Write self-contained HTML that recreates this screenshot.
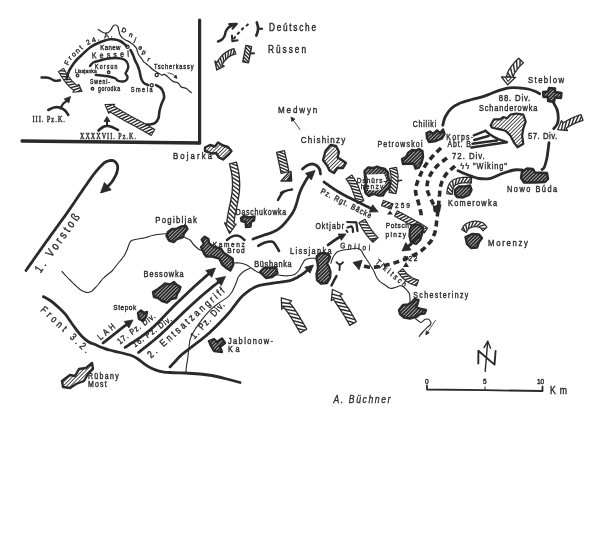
<!DOCTYPE html>
<html><head><meta charset="utf-8"><title>Map</title>
<style>html,body{margin:0;padding:0;background:#fff;}svg{display:block;filter:grayscale(1);}</style></head>
<body><svg width="600" height="545" viewBox="0 0 600 545">
<rect width="600" height="545" fill="#fff"/>
<defs>
<pattern id="hatch" patternUnits="userSpaceOnUse" width="2.6" height="2.6" patternTransform="rotate(45)">
<rect width="2.6" height="2.6" fill="#fff"/><line x1="0" y1="0" x2="0" y2="2.6" stroke="#2a2a2a" stroke-width="1.6"/></pattern>
<pattern id="hatchd" patternUnits="userSpaceOnUse" width="2.5" height="2.5" patternTransform="rotate(45)">
<rect width="2.5" height="2.5" fill="#2a2a2a"/><line x1="0" y1="0" x2="0" y2="2.5" stroke="#fff" stroke-width="1.1"/></pattern>
</defs>
<path d="M22,141 L199.6,143" fill="none" stroke="#2a2a2a" stroke-width="3.3" stroke-linecap="round" stroke-linejoin="round"/>
<path d="M199.6,20 L199.6,143" fill="none" stroke="#2a2a2a" stroke-width="3.2" stroke-linecap="round" stroke-linejoin="round"/>
<path d="M98.3,29.6 C98.9,30 100.6,31.1 101.7,31.7 C102.8,32.3 103.9,32.9 105,33 C106.1,33.1 107.3,33 108.3,32.5 C109.3,32 110,31.1 110.8,30 C111.6,28.9 112.5,26.6 113.3,25.8 C114.1,25 114.7,24.9 115.4,25 C116.2,25.1 117.2,25.6 117.8,26.4 C118.3,27.2 118.3,28.6 118.7,30 C119.1,31.4 119.4,33.4 120,34.7 C120.6,36 121.5,37.1 122.3,37.9 C123.1,38.7 123.9,39.1 125,39.7 C126.1,40.3 127.7,41 128.8,41.6 C129.9,42.2 130.6,42.7 131.5,43.4 C132.4,44.1 133.5,44.9 134.3,45.7 C135.2,46.5 136.1,47.3 136.6,48.4 C137.1,49.5 137.1,50.9 137.5,52.1 C137.9,53.3 138.6,54.7 139.3,55.8 C140,56.9 140.9,57.6 141.6,58.5 C142.3,59.4 142.6,60.4 143.4,61.3 C144.2,62.2 145.2,62.9 146.2,63.8 C147.2,64.7 148.4,65.6 149.5,66.5 C150.6,67.4 151.6,68.5 152.5,69.3 C153.4,70.1 154,70.4 155.1,71.1 C156.2,71.8 157.7,72.6 158.8,73.3 C160,74 161.2,75 162,75.2 C162.8,75.4 163.1,74.3 163.8,74.3 C164.5,74.3 165.1,74.4 166.1,75.2 C167.1,76 168.6,77.8 169.8,78.9 C171,80 172.2,81 173.4,81.6 C174.6,82.2 176.1,82 177.1,82.5 C178.1,83 178.8,83.7 179.4,84.4 C180,85.1 180.1,86.2 180.8,86.7 C181.5,87.2 182.6,87.3 183.5,87.6 C184.4,87.9 185.4,88 186.3,88.5 C187.2,89 188.2,90.1 189,90.8 C189.8,91.5 190.9,92.3 191.3,92.6" fill="none" stroke="#2a2a2a" stroke-width="1.2" stroke-linecap="round" stroke-linejoin="round"/>
<text font-size="6.5" letter-spacing="0" font-weight="normal" font-style="normal" font-family="Liberation Sans" text-anchor="start" fill="#2a2a2a" stroke="#2a2a2a" stroke-width="0.4" transform="translate(121 31.5) rotate(20)">D</text>
<text font-size="6.5" letter-spacing="0" font-weight="normal" font-style="normal" font-family="Liberation Sans" text-anchor="start" fill="#2a2a2a" stroke="#2a2a2a" stroke-width="0.4" transform="translate(128.5 36.2) rotate(20)">n</text>
<text font-size="6.5" letter-spacing="0" font-weight="normal" font-style="normal" font-family="Liberation Sans" text-anchor="start" fill="#2a2a2a" stroke="#2a2a2a" stroke-width="0.4" transform="translate(133.8 41.5) rotate(20)">j</text>
<text font-size="6.5" letter-spacing="0" font-weight="normal" font-style="normal" font-family="Liberation Sans" text-anchor="start" fill="#2a2a2a" stroke="#2a2a2a" stroke-width="0.4" transform="translate(138 49) rotate(20)">e</text>
<text font-size="6.5" letter-spacing="0" font-weight="normal" font-style="normal" font-family="Liberation Sans" text-anchor="start" fill="#2a2a2a" stroke="#2a2a2a" stroke-width="0.4" transform="translate(141.5 53.5) rotate(20)">p</text>
<text font-size="6.5" letter-spacing="0" font-weight="normal" font-style="normal" font-family="Liberation Sans" text-anchor="start" fill="#2a2a2a" stroke="#2a2a2a" stroke-width="0.4" transform="translate(147 61) rotate(20)">r</text>
<path d="M66.5,79 C66.9,77.7 67.9,73.4 69,71 C70.1,68.6 71.7,66.4 73,64.5 C74.3,62.6 75.5,61.1 77,59.5 C78.5,57.9 80.2,56.4 81.7,55 C83.2,53.6 84.6,52.2 86,51 C87.4,49.8 88.5,48.6 90,47.5 C91.5,46.4 93.3,45.4 95,44.5 C96.7,43.6 98.3,43 100,42.3 C101.7,41.6 103.3,41 105,40.5 C106.7,40 108.3,39.5 110,39.3 C111.7,39.1 113.3,39.2 115,39.5 C116.7,39.8 118.5,40.3 120,41 C121.5,41.7 122.9,42.9 124,43.7 C125.1,44.5 126.1,45.6 126.5,46" fill="none" stroke="#2a2a2a" stroke-width="2.6" stroke-linecap="round" stroke-linejoin="round"/>
<path id="frontarc" d="M68,65.5 C68.7,64.4 70.7,60.5 72.2,58.7 C73.7,56.9 75.3,56.1 76.9,54.6 C78.5,53.1 79.9,51.5 81.6,50 C83.3,48.5 84.9,47 87,45.7 C89.1,44.4 91.9,43.1 94.2,42.1 C96.5,41.1 98.6,40.5 101,39.8 C103.4,39 106.1,38.1 108.6,37.6 C111.1,37.1 114.8,37.1 116,37" fill="none"/>
<text font-size="7" letter-spacing="1.7" font-family="Liberation Sans" fill="#2a2a2a" stroke="#2a2a2a" stroke-width="0.35"><textPath href="#frontarc">Front 24. A.</textPath></text>
<circle cx="127.5" cy="46.8" r="1.6" fill="none" stroke="#2a2a2a" stroke-width="1.3"/>
<text font-size="7.4" letter-spacing="0" font-weight="normal" font-style="normal" font-family="Liberation Sans" text-anchor="start" fill="#2a2a2a" stroke="#2a2a2a" stroke-width="0.4" transform="translate(100.3 50.2) scale(0.820 1)" textLength="24.39" lengthAdjust="spacing">Kanew</text>
<text font-size="8.5" letter-spacing="0" font-weight="normal" font-style="normal" font-family="Liberation Sans" text-anchor="start" fill="#2a2a2a" stroke="#2a2a2a" stroke-width="0.4" transform="translate(92 58.6) rotate(-3) scale(0.820 1)" textLength="45.12" lengthAdjust="spacing">Kessel</text>
<path d="M130.5,50 C130.9,50.8 132.2,53.3 133,55 C133.8,56.7 134.2,58.5 135,60.3 C135.8,62.1 136.9,63.9 137.7,65.7 C138.4,67.5 139,69.3 139.5,71 C140,72.7 140.1,74.4 140.5,76 C140.9,77.6 141.3,79.2 142,80.5 C142.7,81.8 143.5,82.8 144.5,83.5 C145.5,84.2 147.4,84.8 148,85" fill="none" stroke="#2a2a2a" stroke-width="2.6" stroke-linecap="round" stroke-linejoin="round"/>
<circle cx="151.7" cy="85.2" r="1.6" fill="none" stroke="#2a2a2a" stroke-width="1.3"/>
<text font-size="6.7" letter-spacing="0" font-weight="normal" font-style="normal" font-family="Liberation Sans" text-anchor="start" fill="#2a2a2a" stroke="#2a2a2a" stroke-width="0.4" transform="translate(130.8 91.5) scale(0.820 1)" textLength="26.46" lengthAdjust="spacing">Smela</text>
<path d="M156,85 C156.8,85.5 159.6,86.7 160.8,88 C162.1,89.3 163,91.3 163.5,93 C164,94.7 164.3,96.2 164,98 C163.7,99.8 162.2,101.8 161.5,104 C160.8,106.2 160,108.7 159.5,111 C159,113.3 159.2,116 158.5,118 C157.8,120 156.4,121.9 155,123 C153.6,124.1 151.4,124.2 150,124.5 C148.6,124.8 147.1,124.5 146.5,124.5" fill="none" stroke="#2a2a2a" stroke-width="2.6" stroke-linecap="round" stroke-linejoin="round"/>
<circle cx="156.7" cy="75" r="1.6" fill="none" stroke="#2a2a2a" stroke-width="1.3"/>
<text font-size="6.9" letter-spacing="0" font-weight="normal" font-style="normal" font-family="Liberation Sans" text-anchor="start" fill="#2a2a2a" stroke="#2a2a2a" stroke-width="0.4" transform="translate(154 69.3) scale(0.820 1)" textLength="48.17" lengthAdjust="spacing">Tscherkassy</text>
<path d="M168,72.9 L168.7,73.1 L169.7,73.3 L170.8,73.6 L172,74 L173,74.5 L173.8,75.1 L174.7,75.9 L175.5,76.8 L175.5,76.8" fill="none" stroke="#2a2a2a" stroke-width="0.9" stroke-linecap="round" stroke-linejoin="round"/><path d="M177,78.4 L173.9,77.2 L176.1,75.2Z" fill="#2a2a2a" stroke="#2a2a2a" stroke-width="0.8" stroke-linejoin="round"/>
<path d="M90,66 C90.5,65.4 91.6,63.4 93.3,62.5 C95,61.6 97.8,61.1 100,60.5 C102.2,59.9 104.2,59.2 106.7,58.8 C109.2,58.4 112.5,58 115,58 C117.5,58 119.8,58.1 121.7,58.7 C123.6,59.3 125.4,60.2 126.5,61.5 C127.6,62.8 128.2,65 128.3,66.5 C128.4,68 127.5,69.6 127,70.8 C126.5,72 125.4,72.5 125.5,73.5 C125.6,74.5 127.3,75.6 127.5,76.7 C127.7,77.8 127.2,79.2 126.5,80 C125.8,80.8 124.7,81.4 123.3,81.5 C121.9,81.6 119.7,81.3 118.3,80.8 C116.9,80.3 116.4,79 115,78.3 C113.6,77.6 112,77.1 110,76.7 C108,76.3 105.7,76.1 103.3,75.8 C100.9,75.5 97,75.1 95.8,75" fill="none" stroke="#2a2a2a" stroke-width="2.4" stroke-linecap="round" stroke-linejoin="round"/>
<text font-size="6.4" letter-spacing="0" font-weight="normal" font-style="normal" font-family="Liberation Sans" text-anchor="start" fill="#2a2a2a" stroke="#2a2a2a" stroke-width="0.4" transform="translate(95 69.2) scale(0.820 1)" textLength="27.44" lengthAdjust="spacing">Korsun</text>
<text font-size="6.1" letter-spacing="0" font-weight="normal" font-style="normal" font-family="Liberation Sans" text-anchor="start" fill="#2a2a2a" stroke="#2a2a2a" stroke-width="0.4" transform="translate(75 72.5) scale(0.820 1)" textLength="26.46" lengthAdjust="spacing">Lissjanka</text>
<circle cx="77.5" cy="75.5" r="1.3" fill="none" stroke="#2a2a2a" stroke-width="1.3"/>
<circle cx="108.7" cy="72.3" r="1.3" fill="none" stroke="#2a2a2a" stroke-width="1.3"/>
<text font-size="6.3" letter-spacing="0" font-weight="normal" font-style="normal" font-family="Liberation Sans" text-anchor="start" fill="#2a2a2a" stroke="#2a2a2a" stroke-width="0.4" transform="translate(90 84) scale(0.820 1)" textLength="24.39" lengthAdjust="spacing">Sweni-</text>
<text font-size="6.3" letter-spacing="0" font-weight="normal" font-style="normal" font-family="Liberation Sans" text-anchor="start" fill="#2a2a2a" stroke="#2a2a2a" stroke-width="0.4" transform="translate(98 90.5) scale(0.820 1)" textLength="26.83" lengthAdjust="spacing">gorodka</text>
<circle cx="92.5" cy="88.8" r="1.3" fill="none" stroke="#2a2a2a" stroke-width="1.3"/>
<path d="M41.5,77.5 C42.2,77.5 44.6,77.4 46,77.5 C47.4,77.6 48.5,77.8 50,78.3 C51.5,78.8 53.3,80.5 55,80.8 C56.7,81.1 59.2,80.4 60,80.3" fill="none" stroke="#2a2a2a" stroke-width="2.4" stroke-linecap="round" stroke-linejoin="round"/>
<clipPath id="hb1"><path d="M58.4,71.6 L58.8,72.2 L59.3,72.9 L59.7,73.6 L60.1,74.3 L60.5,75 L60.9,75.7 L61.4,76.4 L61.8,77.1 L62.2,77.8 L62.7,78.5 L63.2,79.2 L63.7,79.9 L64.2,80.6 L64.7,81.2 L65.2,81.9 L65.7,82.6 L66.2,83.2 L66.8,83.9 L67.4,84.5 L67.9,85.1 L68.5,85.8 L69.1,86.4 L69.8,87 L70.4,87.6 L71,88.1 L71.7,88.7 L72.3,89.2 L73,89.8 L73.7,90.3 L74.1,90.6 L72.9,92.2 L82,91.5 L78.8,84.2 L77.6,85.8 L77.3,85.5 L76.7,85 L76.1,84.6 L75.5,84.1 L75,83.6 L74.4,83.1 L73.9,82.6 L73.4,82.1 L72.8,81.6 L72.3,81.1 L71.8,80.5 L71.3,80 L70.8,79.4 L70.4,78.8 L69.9,78.2 L69.4,77.6 L69,77 L68.5,76.4 L68.1,75.8 L67.7,75.2 L67.3,74.5 L66.9,73.9 L66.5,73.2 L66,72.5 L65.6,71.9 L65.2,71.2 L64.8,70.5 L64.4,69.8 L64,69.1 L63.6,68.4Z"/></clipPath><path d="M55.4,70.5 L67.6,71.3 M57.2,73.4 L69.4,74.2 M59,76.5 L71.2,76.8 M61,79.7 L73.2,79.2 M63.1,82.8 L75.3,81.4 M65.6,85.7 L77.5,83.4 M68.2,88.4 L80,85.2 M71.1,91 L82.5,86.7 M74.5,93.6 L85,87.4 M76.7,94.5 L87.3,88.5 " stroke="#2a2a2a" stroke-width="1.4" fill="none" clip-path="url(#hb1)"/><path d="M58.4,71.6 L58.8,72.2 L59.3,72.9 L59.7,73.6 L60.1,74.3 L60.5,75 L60.9,75.7 L61.4,76.4 L61.8,77.1 L62.2,77.8 L62.7,78.5 L63.2,79.2 L63.7,79.9 L64.2,80.6 L64.7,81.2 L65.2,81.9 L65.7,82.6 L66.2,83.2 L66.8,83.9 L67.4,84.5 L67.9,85.1 L68.5,85.8 L69.1,86.4 L69.8,87 L70.4,87.6 L71,88.1 L71.7,88.7 L72.3,89.2 L73,89.8 L73.7,90.3 L74.1,90.6 L72.9,92.2 L82,91.5 L78.8,84.2 L77.6,85.8 L77.3,85.5 L76.7,85 L76.1,84.6 L75.5,84.1 L75,83.6 L74.4,83.1 L73.9,82.6 L73.4,82.1 L72.8,81.6 L72.3,81.1 L71.8,80.5 L71.3,80 L70.8,79.4 L70.4,78.8 L69.9,78.2 L69.4,77.6 L69,77 L68.5,76.4 L68.1,75.8 L67.7,75.2 L67.3,74.5 L66.9,73.9 L66.5,73.2 L66,72.5 L65.6,71.9 L65.2,71.2 L64.8,70.5 L64.4,69.8 L64,69.1 L63.6,68.4Z" fill="none" stroke="#2a2a2a" stroke-width="1.1" stroke-linejoin="round"/>
<path d="M48.3,110 C49.2,109.6 52,107.9 54,107.5 C56,107.1 58.2,107 60,107.5 C61.8,108 63.6,109.2 65,110.5 C66.4,111.8 67.8,114.2 68.3,115" fill="none" stroke="#2a2a2a" stroke-width="2.6" stroke-linecap="round" stroke-linejoin="round"/>
<path d="M60.5,108.5 L60.8,107.9 L61.2,107 L61.8,105.9 L62.4,104.9 L63,104 L63.7,103.2 L64.5,102.6 L65.4,101.9 L66.2,101.2 L67,100.5 L67.4,100.1" fill="none" stroke="#2a2a2a" stroke-width="2.2" stroke-linecap="round" stroke-linejoin="round"/><path d="M70.5,96.5 L68.8,102.9 L64.2,99Z" fill="#2a2a2a" stroke="#2a2a2a" stroke-width="0.8" stroke-linejoin="round"/>
<text font-size="8" letter-spacing="0" font-weight="normal" font-style="normal" font-family="Liberation Serif" text-anchor="start" fill="#2a2a2a" stroke="#2a2a2a" stroke-width="0.4" transform="translate(32.5 121.5) scale(0.820 1)" textLength="39.63" lengthAdjust="spacing">III. Pz.K.</text>
<path d="M98.5,130.5 C99.2,129.9 101.6,127.8 103,127 C104.4,126.2 105.5,126 107,126 C108.5,126 110.2,126.3 112,127 C113.8,127.7 117,129.5 118,130" fill="none" stroke="#2a2a2a" stroke-width="2.6" stroke-linecap="round" stroke-linejoin="round"/>
<path d="M107,126 L107,125.4 L107,124.5 L107,123.4 L107,122.2 L107,120.9 L107,120.3" fill="none" stroke="#2a2a2a" stroke-width="2" stroke-linecap="round" stroke-linejoin="round"/><path d="M107,116.5 L110,121.5 L104,121.5Z" fill="#2a2a2a" stroke="#2a2a2a" stroke-width="0.8" stroke-linejoin="round"/>
<text font-size="7.4" letter-spacing="0" font-weight="normal" font-style="normal" font-family="Liberation Serif" text-anchor="start" fill="#2a2a2a" stroke="#2a2a2a" stroke-width="0.4" transform="translate(80 139) scale(0.820 1)" textLength="68.29" lengthAdjust="spacing">XXXXVII. Pz.K.</text>
<clipPath id="hb2"><path d="M154.8,129.5 L154.1,129.1 L153.4,128.7 L152.7,128.3 L152,127.9 L151.3,127.5 L150.6,127.1 L149.9,126.7 L149.2,126.3 L148.5,125.9 L147.8,125.4 L147.1,125 L146.5,124.6 L145.8,124.2 L145.1,123.8 L144.4,123.4 L143.7,123 L143,122.6 L142.2,122.2 L141.5,121.8 L140.8,121.5 L140.1,121.1 L139.4,120.7 L138.7,120.3 L138,119.9 L137.3,119.5 L136.5,119.2 L135.8,118.8 L135.1,118.4 L134.4,118 L133.7,117.7 L133,117.3 L132.3,116.9 L131.6,116.5 L130.9,116.2 L130.2,115.8 L129.5,115.4 L128.9,115 L128.2,114.6 L127.5,114.3 L126.8,113.9 L126.1,113.5 L125.4,113.1 L124.8,112.7 L124.1,112.3 L123.4,111.9 L122.7,111.5 L122,111.1 L121.4,110.7 L120.7,110.2 L120,109.8 L119.3,109.4 L118.6,109 L118,108.6 L117.3,108.2 L116.6,107.8 L116,107.3 L115.3,106.9 L114.6,106.5 L113.9,106.1 L113.6,105.9 L114.7,104.2 L105,104.5 L108.8,113.5 L109.9,111.8 L110.2,112 L110.9,112.4 L111.5,112.8 L112.2,113.3 L112.9,113.7 L113.6,114.1 L114.3,114.6 L115,115 L115.7,115.4 L116.4,115.8 L117.1,116.2 L117.7,116.7 L118.4,117.1 L119.1,117.5 L119.8,117.9 L120.5,118.3 L121.2,118.7 L121.9,119.1 L122.6,119.5 L123.3,119.9 L124,120.3 L124.7,120.7 L125.4,121.1 L126.2,121.5 L126.9,121.9 L127.6,122.3 L128.3,122.7 L129,123.1 L129.7,123.5 L130.4,123.8 L131.1,124.2 L131.9,124.6 L132.6,125 L133.3,125.3 L134,125.7 L134.7,126.1 L135.4,126.5 L136.1,126.8 L136.8,127.2 L137.4,127.6 L138.1,128 L138.8,128.3 L139.5,128.7 L140.2,129.1 L140.9,129.5 L141.6,129.9 L142.3,130.3 L143,130.7 L143.6,131.1 L144.3,131.5 L145,131.9 L145.7,132.3 L146.4,132.7 L147.1,133.1 L147.8,133.5 L148.5,133.9 L149.2,134.3 L149.9,134.7 L150.5,135.1 L151.2,135.5Z"/></clipPath><path d="M158.2,129.2 L146,134.8 M155.3,127.5 L143.1,133.1 M152.3,125.7 L140.2,131.4 M149.4,124 L137.2,129.7 M146.4,122.3 L134.3,128.1 M143.4,120.5 L131.4,126.6 M140.3,118.9 L128.4,125 M137.3,117.3 L125.4,123.4 M134.4,115.8 L122.3,121.7 M131.5,114.2 L119.3,120 M128.6,112.6 L116.3,118.2 M125.7,110.9 L113.4,116.4 M122.8,109.2 L110.5,114.6 M119.9,107.5 L107.5,112.7 M117.1,105.7 L104.7,110.8 M114.2,103.9 L101.8,109 M111.3,102 L98.9,107.2 " stroke="#2a2a2a" stroke-width="1.4" fill="none" clip-path="url(#hb2)"/><path d="M154.8,129.5 L154.1,129.1 L153.4,128.7 L152.7,128.3 L152,127.9 L151.3,127.5 L150.6,127.1 L149.9,126.7 L149.2,126.3 L148.5,125.9 L147.8,125.4 L147.1,125 L146.5,124.6 L145.8,124.2 L145.1,123.8 L144.4,123.4 L143.7,123 L143,122.6 L142.2,122.2 L141.5,121.8 L140.8,121.5 L140.1,121.1 L139.4,120.7 L138.7,120.3 L138,119.9 L137.3,119.5 L136.5,119.2 L135.8,118.8 L135.1,118.4 L134.4,118 L133.7,117.7 L133,117.3 L132.3,116.9 L131.6,116.5 L130.9,116.2 L130.2,115.8 L129.5,115.4 L128.9,115 L128.2,114.6 L127.5,114.3 L126.8,113.9 L126.1,113.5 L125.4,113.1 L124.8,112.7 L124.1,112.3 L123.4,111.9 L122.7,111.5 L122,111.1 L121.4,110.7 L120.7,110.2 L120,109.8 L119.3,109.4 L118.6,109 L118,108.6 L117.3,108.2 L116.6,107.8 L116,107.3 L115.3,106.9 L114.6,106.5 L113.9,106.1 L113.6,105.9 L114.7,104.2 L105,104.5 L108.8,113.5 L109.9,111.8 L110.2,112 L110.9,112.4 L111.5,112.8 L112.2,113.3 L112.9,113.7 L113.6,114.1 L114.3,114.6 L115,115 L115.7,115.4 L116.4,115.8 L117.1,116.2 L117.7,116.7 L118.4,117.1 L119.1,117.5 L119.8,117.9 L120.5,118.3 L121.2,118.7 L121.9,119.1 L122.6,119.5 L123.3,119.9 L124,120.3 L124.7,120.7 L125.4,121.1 L126.2,121.5 L126.9,121.9 L127.6,122.3 L128.3,122.7 L129,123.1 L129.7,123.5 L130.4,123.8 L131.1,124.2 L131.9,124.6 L132.6,125 L133.3,125.3 L134,125.7 L134.7,126.1 L135.4,126.5 L136.1,126.8 L136.8,127.2 L137.4,127.6 L138.1,128 L138.8,128.3 L139.5,128.7 L140.2,129.1 L140.9,129.5 L141.6,129.9 L142.3,130.3 L143,130.7 L143.6,131.1 L144.3,131.5 L145,131.9 L145.7,132.3 L146.4,132.7 L147.1,133.1 L147.8,133.5 L148.5,133.9 L149.2,134.3 L149.9,134.7 L150.5,135.1 L151.2,135.5Z" fill="none" stroke="#2a2a2a" stroke-width="1.1" stroke-linejoin="round"/>
<path d="M218,41.5 C218.7,41.2 220.9,40.4 222,39.5 C223.1,38.6 223.8,37.4 224.5,36 C225.2,34.6 225.3,32.4 226,31 C226.7,29.6 227.5,28.4 228.5,27.5 C229.5,26.6 230.8,26 232,25.5 C233.2,25 234.9,24.5 235.5,24.3" fill="none" stroke="#2a2a2a" stroke-width="2.5" stroke-linecap="round" stroke-linejoin="round"/>
<path d="M229.3,24.2 L236.8,23.8 L232.6,28.6" fill="none" stroke="#2a2a2a" stroke-width="2.2" stroke-linecap="round" stroke-linejoin="round"/>
<path d="M248.5,24 L247.9,24.4 L247.2,25 L246.3,25.7 L245.3,26.4 L244.4,27.1 L243.6,27.8 L242.9,28.5 L242.1,29.3 L241.4,30 L240.7,30.7 L240,31.5 L239.3,32.3 L238.5,33 L237.8,33.8 L237,34.6 L236.3,35.4 L235.6,36.2 L234.9,37.2 L234.2,38.2 L233.6,39.1 L233.2,39.8" fill="none" stroke="#2a2a2a" stroke-width="2" stroke-linejoin="round" stroke-dasharray="3.4 2.6" stroke-linecap="butt"/>
<path d="M232,35.5 L232.3,41.3 L237.6,40.2" fill="none" stroke="#2a2a2a" stroke-width="2" stroke-linecap="round" stroke-linejoin="round"/>
<path d="M256.8,22.5 C257,23.2 257.8,25.6 258,27 C258.2,28.4 258.1,29.6 257.8,31 C257.5,32.4 256.6,34.8 256.3,35.5" fill="none" stroke="#2a2a2a" stroke-width="2.7" stroke-linecap="round" stroke-linejoin="round"/>
<path d="M258,28.5 L262,28.8" fill="none" stroke="#2a2a2a" stroke-width="2.2" stroke-linecap="round" stroke-linejoin="round"/>
<text font-size="10.1" letter-spacing="0" font-weight="normal" font-style="normal" font-family="Liberation Sans" text-anchor="start" fill="#2a2a2a" stroke="#2a2a2a" stroke-width="0.4" transform="translate(269 31) scale(0.820 1)" textLength="57.32" lengthAdjust="spacing">Deútsche</text>
<clipPath id="hb3"><path d="M233.8,48.6 L233.1,48.9 L232.4,49.1 L231.6,49.4 L230.8,49.7 L230,50 L229.2,50.4 L228.3,50.8 L227.5,51.3 L226.7,51.7 L226,52.2 L225.3,52.8 L224.5,53.3 L223.9,53.8 L223.2,54.4 L222.5,55 L221.9,55.7 L221.3,56.4 L220.7,57 L220.2,57.7 L219.6,58.4 L219.1,59.1 L218.6,59.8 L218.1,60.5 L217.7,61.3 L217.3,62 L217.1,62.3 L214.9,61.1 L216.8,70 L224.2,66.1 L222,64.9 L222,64.7 L222.4,64.1 L222.8,63.5 L223.2,62.9 L223.6,62.3 L224,61.7 L224.5,61.1 L224.9,60.6 L225.4,60 L225.9,59.5 L226.4,59 L226.9,58.5 L227.4,58.1 L228,57.6 L228.5,57.2 L229.1,56.8 L229.7,56.4 L230.3,56 L230.9,55.7 L231.4,55.4 L232.1,55.1 L232.8,54.9 L233.5,54.6 L234.2,54.3 L235,54.1 L235.8,53.8Z"/></clipPath><path d="M235.6,45.4 L232.2,57.7 M232.3,46.4 L229.5,58.9 M228.4,47.7 L227.8,60.5 M224.9,49.7 L226.1,62.4 M221.7,52.1 L224.8,64.5 M219.1,54.8 L223.4,66.9 M216.8,57.8 L222.3,69.3 M214.7,61 L221.6,71.8 M213.4,64.1 L220.7,74.7 " stroke="#2a2a2a" stroke-width="1.4" fill="none" clip-path="url(#hb3)"/><path d="M233.8,48.6 L233.1,48.9 L232.4,49.1 L231.6,49.4 L230.8,49.7 L230,50 L229.2,50.4 L228.3,50.8 L227.5,51.3 L226.7,51.7 L226,52.2 L225.3,52.8 L224.5,53.3 L223.9,53.8 L223.2,54.4 L222.5,55 L221.9,55.7 L221.3,56.4 L220.7,57 L220.2,57.7 L219.6,58.4 L219.1,59.1 L218.6,59.8 L218.1,60.5 L217.7,61.3 L217.3,62 L217.1,62.3 L214.9,61.1 L216.8,70 L224.2,66.1 L222,64.9 L222,64.7 L222.4,64.1 L222.8,63.5 L223.2,62.9 L223.6,62.3 L224,61.7 L224.5,61.1 L224.9,60.6 L225.4,60 L225.9,59.5 L226.4,59 L226.9,58.5 L227.4,58.1 L228,57.6 L228.5,57.2 L229.1,56.8 L229.7,56.4 L230.3,56 L230.9,55.7 L231.4,55.4 L232.1,55.1 L232.8,54.9 L233.5,54.6 L234.2,54.3 L235,54.1 L235.8,53.8Z" fill="none" stroke="#2a2a2a" stroke-width="1.3" stroke-linejoin="round"/>
<clipPath id="hb4"><path d="M246,45.4 L245.8,46.2 L245.6,47 L245.5,47.8 L245.3,48.6 L245.2,49.4 L245,50.1 L244.9,50.9 L244.7,51.7 L244.5,52.5 L244.4,53.3 L244.2,54.1 L244.1,54.9 L243.9,55.7 L243.8,56.4 L243.6,57.2 L243.5,58 L243.3,58.8 L243.2,59.6 L243,60.4 L242.9,61.2 L242.8,61.8 L248.4,62.8 L248.6,62.2 L248.7,61.5 L248.9,60.7 L249,59.9 L249.2,59.1 L249.3,58.3 L249.5,57.5 L249.6,56.8 L249.8,56 L249.9,55.2 L250.1,54.4 L250.2,53.6 L250.4,52.8 L250.5,52.1 L250.7,51.3 L250.9,50.5 L251,49.7 L251.2,48.9 L251.3,48.1 L251.5,47.4 L251.6,46.6Z"/></clipPath><path d="M246.2,44.4 L251.1,49.5 M245.5,47.5 L250.4,52.6 M244.9,50.7 L249.8,55.8 M244.3,53.8 L249.2,58.9 M243.7,57 L248.6,62 M243.1,59.8 L248.1,64.8 " stroke="#2a2a2a" stroke-width="1.4" fill="none" clip-path="url(#hb4)"/><path d="M246,45.4 L245.8,46.2 L245.6,47 L245.5,47.8 L245.3,48.6 L245.2,49.4 L245,50.1 L244.9,50.9 L244.7,51.7 L244.5,52.5 L244.4,53.3 L244.2,54.1 L244.1,54.9 L243.9,55.7 L243.8,56.4 L243.6,57.2 L243.5,58 L243.3,58.8 L243.2,59.6 L243,60.4 L242.9,61.2 L242.8,61.8 L248.4,62.8 L248.6,62.2 L248.7,61.5 L248.9,60.7 L249,59.9 L249.2,59.1 L249.3,58.3 L249.5,57.5 L249.6,56.8 L249.8,56 L249.9,55.2 L250.1,54.4 L250.2,53.6 L250.4,52.8 L250.5,52.1 L250.7,51.3 L250.9,50.5 L251,49.7 L251.2,48.9 L251.3,48.1 L251.5,47.4 L251.6,46.6Z" fill="none" stroke="#2a2a2a" stroke-width="1.4" stroke-linejoin="round"/>
<path d="M250.5,53.6 L254,53.3" fill="none" stroke="#2a2a2a" stroke-width="2" stroke-linecap="round" stroke-linejoin="round"/>
<text font-size="10.1" letter-spacing="0" font-weight="normal" font-style="normal" font-family="Liberation Sans" text-anchor="start" fill="#2a2a2a" stroke="#2a2a2a" stroke-width="0.4" transform="translate(268 53) scale(0.820 1)" textLength="46.34" lengthAdjust="spacing">Rüssen</text>
<text font-size="9.8" letter-spacing="0" font-weight="normal" font-style="normal" font-family="Liberation Sans" text-anchor="start" fill="#2a2a2a" stroke="#2a2a2a" stroke-width="0.4" transform="translate(278 112.7) scale(0.820 1)" textLength="47.93" lengthAdjust="spacing">Medwyn</text>
<path d="M300,129.5 L299.6,129 L299.1,128.3 L298.5,127.4 L297.8,126.5 L297.1,125.5 L296.4,124.5 L295.7,123.6 L295.1,122.8 L294.5,121.8 L293.8,120.9 L293.1,119.9 L292.8,119.5" fill="none" stroke="#2a2a2a" stroke-width="1" stroke-linecap="round" stroke-linejoin="round"/><path d="M291,117 L295,119.1 L291.7,121.4Z" fill="#2a2a2a" stroke="#2a2a2a" stroke-width="0.8" stroke-linejoin="round"/>
<text font-size="9.8" letter-spacing="0" font-weight="normal" font-style="normal" font-family="Liberation Sans" text-anchor="start" fill="#2a2a2a" stroke="#2a2a2a" stroke-width="0.4" transform="translate(300.7 142.7) scale(0.820 1)" textLength="54.39" lengthAdjust="spacing">Chishinzy</text>
<path d="M323,160 L325.5,151 L330.5,145 L336,146 L339,152 L337.5,157.5 L341,159.5 L346,163 L343,168 L337.5,168 L334,173 L329.5,170.5 L327,165.5Z" fill="url(#hatch)" stroke="#2a2a2a" stroke-width="2.4" stroke-linejoin="round"/>
<text font-size="9.5" letter-spacing="0" font-weight="normal" font-style="normal" font-family="Liberation Sans" text-anchor="start" fill="#2a2a2a" stroke="#2a2a2a" stroke-width="0.4" transform="translate(173 159) scale(0.820 1)" textLength="47.56" lengthAdjust="spacing">Bojarka</text>
<path d="M205,147.5 L210,145 L215,146.5 L218,142.5 L223,145.5 L228,147 L231.5,151 L229,154 L223,159.5 L219,157.5 L216,153 L212,153.5 L208,152 L205,151Z" fill="url(#hatch)" stroke="#2a2a2a" stroke-width="2.4" stroke-linejoin="round"/>
<clipPath id="hb5"><path d="M229.5,163.8 L229.7,164.6 L229.9,165.4 L230,166.2 L230.2,167 L230.4,167.7 L230.6,168.5 L230.8,169.3 L230.9,170 L231.1,170.8 L231.3,171.5 L231.4,172.3 L231.5,173 L231.7,173.8 L231.8,174.5 L231.9,175.2 L232,175.9 L232.1,176.7 L232.1,177.4 L232.2,178.2 L232.3,179 L232.3,179.7 L232.4,180.5 L232.4,181.3 L232.4,182 L232.4,182.8 L232.5,183.6 L232.5,184.3 L232.5,185.1 L232.5,185.9 L232.4,186.6 L232.4,187.4 L232.4,188.2 L232.3,188.9 L232.3,189.6 L232.2,190.4 L232.2,191.1 L232.1,191.9 L232,192.6 L231.9,193.4 L231.8,194.2 L231.7,194.9 L231.6,195.7 L231.4,196.5 L231.3,197.3 L231.2,198 L231,198.8 L230.9,199.6 L230.8,200.3 L230.6,201.1 L230.5,201.8 L230.3,202.6 L230.2,203.4 L230,204.1 L229.8,204.9 L229.7,205.7 L229.5,206.5 L229.3,207.3 L229.1,208 L229,208.8 L228.8,209.7 L228.6,210.5 L228.5,211.3 L228.3,212.1 L228.2,212.9 L228,213.7 L227.9,214.5 L227.8,215.3 L227.6,216.1 L227.5,216.9 L227.4,217.8 L227.3,218.6 L227.2,219.4 L227.1,220.2 L227,221 L226.9,221.8 L226.8,222.7 L226.8,223.2 L224.6,223 L229.6,233.5 L236.1,224.1 L233.9,223.9 L234,223.4 L234.1,222.6 L234.1,221.9 L234.2,221.1 L234.3,220.3 L234.4,219.5 L234.5,218.8 L234.6,218 L234.8,217.2 L234.9,216.5 L235,215.7 L235.1,214.9 L235.3,214.2 L235.4,213.4 L235.5,212.6 L235.7,211.9 L235.8,211.1 L236,210.4 L236.2,209.6 L236.3,208.8 L236.5,208 L236.7,207.3 L236.9,206.5 L237,205.7 L237.2,204.9 L237.4,204.1 L237.5,203.3 L237.7,202.5 L237.9,201.6 L238,200.8 L238.1,200 L238.3,199.2 L238.4,198.4 L238.5,197.6 L238.7,196.8 L238.8,196 L238.9,195.2 L239,194.4 L239.1,193.5 L239.2,192.7 L239.3,191.9 L239.4,191 L239.5,190.2 L239.5,189.3 L239.6,188.5 L239.6,187.6 L239.6,186.8 L239.7,186 L239.7,185.1 L239.7,184.3 L239.7,183.5 L239.6,182.6 L239.6,181.8 L239.6,181 L239.5,180.1 L239.5,179.3 L239.4,178.5 L239.4,177.6 L239.3,176.8 L239.2,176 L239.1,175.1 L239,174.3 L238.9,173.4 L238.8,172.6 L238.6,171.7 L238.5,170.9 L238.3,170.1 L238.1,169.3 L238,168.5 L237.8,167.7 L237.6,166.9 L237.4,166.1 L237.2,165.3 L237,164.5 L236.9,163.7 L236.7,163 L236.5,162.2Z"/></clipPath><path d="M226.7,161.6 L239.8,166.8 M227.7,165.4 L240.7,170.7 M228.6,169.1 L241.4,174.9 M229.5,172.5 L241.7,179.3 M230,176.2 L241.9,183.6 M230.3,180 L241.9,187.9 M230.4,183.7 L241.6,192.2 M230.4,187.3 L241,196.5 M230.1,191 L240.2,200.7 M229.5,194.9 L239.5,204.7 M229,198.6 L238.6,208.9 M228.2,202.5 L237.6,212.8 M227.2,206.5 L237,216.6 M226.4,210.6 L236.4,220.4 M225.6,214.7 L236,224.2 M225,218.9 L235.7,228 M224.6,223 L235.5,231.9 M224.3,227 L235.2,235.8 M224.2,229 L235,238 " stroke="#2a2a2a" stroke-width="1.4" fill="none" clip-path="url(#hb5)"/><path d="M229.5,163.8 L229.7,164.6 L229.9,165.4 L230,166.2 L230.2,167 L230.4,167.7 L230.6,168.5 L230.8,169.3 L230.9,170 L231.1,170.8 L231.3,171.5 L231.4,172.3 L231.5,173 L231.7,173.8 L231.8,174.5 L231.9,175.2 L232,175.9 L232.1,176.7 L232.1,177.4 L232.2,178.2 L232.3,179 L232.3,179.7 L232.4,180.5 L232.4,181.3 L232.4,182 L232.4,182.8 L232.5,183.6 L232.5,184.3 L232.5,185.1 L232.5,185.9 L232.4,186.6 L232.4,187.4 L232.4,188.2 L232.3,188.9 L232.3,189.6 L232.2,190.4 L232.2,191.1 L232.1,191.9 L232,192.6 L231.9,193.4 L231.8,194.2 L231.7,194.9 L231.6,195.7 L231.4,196.5 L231.3,197.3 L231.2,198 L231,198.8 L230.9,199.6 L230.8,200.3 L230.6,201.1 L230.5,201.8 L230.3,202.6 L230.2,203.4 L230,204.1 L229.8,204.9 L229.7,205.7 L229.5,206.5 L229.3,207.3 L229.1,208 L229,208.8 L228.8,209.7 L228.6,210.5 L228.5,211.3 L228.3,212.1 L228.2,212.9 L228,213.7 L227.9,214.5 L227.8,215.3 L227.6,216.1 L227.5,216.9 L227.4,217.8 L227.3,218.6 L227.2,219.4 L227.1,220.2 L227,221 L226.9,221.8 L226.8,222.7 L226.8,223.2 L224.6,223 L229.6,233.5 L236.1,224.1 L233.9,223.9 L234,223.4 L234.1,222.6 L234.1,221.9 L234.2,221.1 L234.3,220.3 L234.4,219.5 L234.5,218.8 L234.6,218 L234.8,217.2 L234.9,216.5 L235,215.7 L235.1,214.9 L235.3,214.2 L235.4,213.4 L235.5,212.6 L235.7,211.9 L235.8,211.1 L236,210.4 L236.2,209.6 L236.3,208.8 L236.5,208 L236.7,207.3 L236.9,206.5 L237,205.7 L237.2,204.9 L237.4,204.1 L237.5,203.3 L237.7,202.5 L237.9,201.6 L238,200.8 L238.1,200 L238.3,199.2 L238.4,198.4 L238.5,197.6 L238.7,196.8 L238.8,196 L238.9,195.2 L239,194.4 L239.1,193.5 L239.2,192.7 L239.3,191.9 L239.4,191 L239.5,190.2 L239.5,189.3 L239.6,188.5 L239.6,187.6 L239.6,186.8 L239.7,186 L239.7,185.1 L239.7,184.3 L239.7,183.5 L239.6,182.6 L239.6,181.8 L239.6,181 L239.5,180.1 L239.5,179.3 L239.4,178.5 L239.4,177.6 L239.3,176.8 L239.2,176 L239.1,175.1 L239,174.3 L238.9,173.4 L238.8,172.6 L238.6,171.7 L238.5,170.9 L238.3,170.1 L238.1,169.3 L238,168.5 L237.8,167.7 L237.6,166.9 L237.4,166.1 L237.2,165.3 L237,164.5 L236.9,163.7 L236.7,163 L236.5,162.2Z" fill="none" stroke="#2a2a2a" stroke-width="1.3" stroke-linejoin="round"/>
<clipPath id="hb6"><path d="M276.6,152.4 L276.8,153.2 L277,154 L277.2,154.7 L277.3,155.5 L277.5,156.3 L277.7,157.1 L277.9,157.8 L278,158.6 L278.2,159.4 L278.4,160.2 L278.5,160.9 L278.7,161.7 L278.9,162.5 L279,163.3 L279.2,164 L279.4,164.8 L279.5,165.6 L279.7,166.4 L279.9,167.1 L280,167.9 L280.2,168.7 L280.3,169.5 L280.5,170.3 L280.6,171 L280.8,171.8 L280.9,172.6 L281.1,173.3 L288.9,171.7 L288.8,171.1 L288.6,170.3 L288.5,169.5 L288.3,168.7 L288.2,167.9 L288,167.1 L287.9,166.3 L287.7,165.5 L287.5,164.8 L287.4,164 L287.2,163.2 L287,162.4 L286.9,161.6 L286.7,160.8 L286.5,160 L286.4,159.2 L286.2,158.4 L286,157.7 L285.8,156.9 L285.7,156.1 L285.5,155.3 L285.3,154.5 L285.1,153.7 L284.9,152.9 L284.8,152.1 L284.6,151.4 L284.4,150.6Z"/></clipPath><path d="M276.2,150.7 L285.3,154.3 M277,154 L286,157.6 M277.7,157.2 L286.8,161 M278.5,160.5 L287.5,164.4 M279.2,163.8 L288.1,167.7 M279.9,167.1 L288.8,171.1 M280.5,170.5 L289.5,174.4 " stroke="#2a2a2a" stroke-width="1.4" fill="none" clip-path="url(#hb6)"/><path d="M276.6,152.4 L276.8,153.2 L277,154 L277.2,154.7 L277.3,155.5 L277.5,156.3 L277.7,157.1 L277.9,157.8 L278,158.6 L278.2,159.4 L278.4,160.2 L278.5,160.9 L278.7,161.7 L278.9,162.5 L279,163.3 L279.2,164 L279.4,164.8 L279.5,165.6 L279.7,166.4 L279.9,167.1 L280,167.9 L280.2,168.7 L280.3,169.5 L280.5,170.3 L280.6,171 L280.8,171.8 L280.9,172.6 L281.1,173.3 L288.9,171.7 L288.8,171.1 L288.6,170.3 L288.5,169.5 L288.3,168.7 L288.2,167.9 L288,167.1 L287.9,166.3 L287.7,165.5 L287.5,164.8 L287.4,164 L287.2,163.2 L287,162.4 L286.9,161.6 L286.7,160.8 L286.5,160 L286.4,159.2 L286.2,158.4 L286,157.7 L285.8,156.9 L285.7,156.1 L285.5,155.3 L285.3,154.5 L285.1,153.7 L284.9,152.9 L284.8,152.1 L284.6,151.4 L284.4,150.6Z" fill="none" stroke="#2a2a2a" stroke-width="1.3" stroke-linejoin="round"/>
<path d="M281,181 L291.7,181 L291,171.5 L289,172.3Z" fill="url(#hatch)" stroke="#2a2a2a" stroke-width="1.4" stroke-linejoin="round"/>
<path d="M285.5,181 L291.7,181 L291,173.5Z" fill="#2a2a2a" stroke="none" stroke-width="0" stroke-linejoin="round"/>
<path d="M278,200 C278.4,199.2 279.6,196.9 280.5,195.5 C281.4,194.1 283,192.4 283.5,191.8" fill="none" stroke="#2a2a2a" stroke-width="2.4" stroke-linecap="round" stroke-linejoin="round"/>
<path d="M281,192.8 C281.8,192.5 284.2,191.4 286,190.8 C287.8,190.2 291,189.7 292,189.5" fill="none" stroke="#2a2a2a" stroke-width="2.4" stroke-linecap="round" stroke-linejoin="round"/>
<path d="M253,239 L253.6,238.8 L254.3,238.5 L255.1,238.2 L256.1,237.9 L257.1,237.5 L258.2,237.2 L259.3,236.8 L260.4,236.4 L261.5,236 L262.4,235.6 L263.4,235.3 L264.3,235 L265.3,234.7 L266.3,234.4 L267.3,234.1 L268.3,233.8 L269.3,233.4 L270.3,233.1 L271.2,232.7 L272.1,232.4 L273,232 L274,231.5 L275,231 L275.9,230.6 L276.8,230.1 L277.6,229.6 L278.4,229 L279.3,228.4 L280.1,227.7 L281,227 L281.7,226.4 L282.4,225.7 L283,225.1 L283.7,224.3 L284.4,223.6 L285.1,222.8 L285.8,222 L286.5,221.2 L287.1,220.4 L287.8,219.6 L288.4,218.8 L289,218 L289.6,217.2 L290.2,216.4 L290.7,215.6 L291.3,214.8 L291.8,214 L292.3,213.2 L292.8,212.4 L293.3,211.5 L293.8,210.6 L294.3,209.6 L294.8,208.6 L295.2,207.6 L295.5,206.7 L295.8,205.8 L296.1,204.9 L296.4,203.9 L296.7,202.9 L297,201.8 L297.3,200.8 L297.6,199.7 L297.9,198.7 L298.2,197.6 L298.5,196.6 L298.8,195.6 L299.1,194.6 L299.4,193.7 L299.7,192.8 L300,192 L300.5,190.9 L300.9,189.8 L301.4,188.7 L301.9,187.8 L302.3,186.8 L302.8,185.9 L303.3,185.1 L303.7,184.3 L304.2,183.5 L304.6,182.7 L305,182 L305.6,180.9 L306.2,180 L306.7,179.1 L307.2,178.3 L307.7,177.6 L308.3,176.8 L309,176 L309.7,175.3 L310.1,174.9" fill="none" stroke="#2a2a2a" stroke-width="2.8" stroke-linecap="round" stroke-linejoin="round"/><path d="M315,170.5 L311.4,180 L305.5,173.3Z" fill="#2a2a2a" stroke="#2a2a2a" stroke-width="0.8" stroke-linejoin="round"/>
<path d="M302.5,169 C303.2,168.4 305.4,166.3 307,165.5 C308.6,164.7 310.4,164 312,164 C313.6,164 315.2,164.7 316.5,165.5 C317.8,166.3 318.8,167.6 319.5,169 C320.2,170.4 320.3,173.2 320.5,174" fill="none" stroke="#2a2a2a" stroke-width="2.8" stroke-linecap="round" stroke-linejoin="round"/>
<path d="M26,270.5 L26.3,270 L26.7,269.5 L27.1,269 L27.5,268.3 L28,267.6 L28.5,266.9 L29.1,266.1 L29.6,265.3 L30.2,264.4 L30.8,263.6 L31.5,262.6 L32.1,261.7 L32.8,260.8 L33.5,259.8 L34.1,258.8 L34.8,257.9 L35.5,256.9 L36.2,255.9 L36.8,255 L37.5,254 L38.2,253.1 L38.8,252.2 L39.4,251.3 L40,250.5 L40.6,249.7 L41.2,248.9 L41.8,248 L42.3,247.2 L42.9,246.4 L43.5,245.6 L44.1,244.8 L44.7,243.9 L45.3,243.1 L45.8,242.3 L46.4,241.5 L47,240.7 L47.6,239.9 L48.2,239.1 L48.8,238.3 L49.4,237.4 L49.9,236.6 L50.5,235.8 L51.1,235 L51.7,234.2 L52.3,233.4 L52.8,232.6 L53.4,231.8 L54,231 L54.6,230.2 L55.2,229.3 L55.8,228.5 L56.4,227.7 L57,226.9 L57.6,226.1 L58.2,225.2 L58.8,224.4 L59.4,223.6 L59.9,222.8 L60.5,222 L61.1,221.2 L61.7,220.4 L62.3,219.6 L62.9,218.7 L63.5,217.9 L64.1,217.1 L64.7,216.3 L65.3,215.4 L65.9,214.6 L66.5,213.7 L67.1,212.9 L67.7,212 L68.3,211.2 L68.8,210.4 L69.4,209.5 L70,208.7 L70.6,207.9 L71.1,207 L71.7,206.2 L72.3,205.3 L72.9,204.4 L73.5,203.6 L74.1,202.7 L74.7,201.8 L75.2,200.9 L75.8,200.1 L76.4,199.2 L77,198.3 L77.6,197.5 L78.1,196.6 L78.7,195.8 L79.3,195 L79.8,194.2 L80.4,193.3 L80.9,192.6 L81.5,191.8 L82,191 L82.6,190.1 L83.3,189.2 L83.9,188.2 L84.5,187.3 L85.1,186.4 L85.8,185.5 L86.4,184.6 L87,183.8 L87.6,182.9 L88.2,182.1 L88.7,181.2 L89.3,180.4 L89.9,179.6 L90.5,178.8 L91,178 L91.6,177.2 L92.1,176.5 L92.7,175.7 L93.2,175 L93.7,174.3 L94.4,173.5 L95.1,172.6 L95.9,171.6 L96.6,170.7 L97.4,169.9 L98.1,169 L98.8,168.2 L99.5,167.5 L100.2,166.8 L100.8,166.1 L101.5,165.4 L102.1,164.8 L102.7,164.3 L103.2,163.7 L104.1,163 L105.2,162.2 L106.1,161.7 L106.9,161.3 L107.8,161.1 L108.6,160.9 L109.5,160.7 L110.6,160.5 L111.6,160.4 L112.6,160.5 L113.6,160.8 L114.4,161.2 L115.2,161.9 L115.9,162.6 L116.6,163.5 L117.1,164.5 L117.5,165.5 L117.7,166.4 L117.7,167.4 L117.7,168.4 L117.5,169.5 L117.3,170.5 L117.1,171.5 L116.9,172.5 L116.6,173.4 L116.2,174.3 L115.7,175.2 L115.3,176.1 L114.8,177 L114.3,177.9 L113.9,178.7 L113.4,179.5 L113,180.2 L112.4,181.1 L111.8,182 L111,183 L110.2,183.8 L109.6,184.5 L108.9,185.2 L108.1,186 L107.2,186.8 L106.4,187.6 L105.9,188" fill="none" stroke="#2a2a2a" stroke-width="2.8" stroke-linecap="round" stroke-linejoin="round"/><path d="M100.5,193 L104.4,182.5 L111.2,189.9Z" fill="#2a2a2a" stroke="#2a2a2a" stroke-width="0.8" stroke-linejoin="round"/>
<text font-size="11.7" letter-spacing="0" font-weight="normal" font-style="normal" font-family="Liberation Sans" text-anchor="start" fill="#2a2a2a" stroke="#2a2a2a" stroke-width="0.4" transform="translate(40.5 273.5) rotate(-55) scale(0.820 1)" textLength="84.15" lengthAdjust="spacing">1. Vorstoß</text>
<path d="M62,271.5 C62.7,272.2 64.7,274.6 66,276 C67.3,277.4 68.5,278.5 70,280 C71.5,281.5 73.3,283.4 75,285 C76.7,286.6 78.3,288.3 80,289.5 C81.7,290.7 83.7,291.5 85,292 C86.3,292.5 86.8,292.7 88,292.5 C89.2,292.3 90.8,291.8 92,291 C93.2,290.2 93.8,289.2 95,288 C96.2,286.8 97.7,285.1 99,283.5 C100.3,281.9 101.7,279.9 103,278.5 C104.3,277.1 105.5,276.2 107,275 C108.5,273.8 110.5,272.5 112,271 C113.5,269.5 114.7,267.7 116,266 C117.3,264.3 118.7,262.7 120,261 C121.3,259.3 122.8,257.8 124,256 C125.2,254.2 126.2,251.9 127,250 C127.8,248.1 128.3,246 129,244.5 C129.7,243 130,241.8 131,241 C132,240.2 133.3,239.9 135,239.5 C136.7,239.1 139.2,238.8 141,238.5 C142.8,238.2 144.2,238 146,237.5 C147.8,237 150.2,236 152,235.5 C153.8,235 155.3,234.8 157,234.5 C158.7,234.2 160.3,234.2 162,234 C163.7,233.8 165.3,233.6 167,233.5 C168.7,233.4 170.3,233.4 172,233.5 C173.7,233.6 175.5,233.7 177,234 C178.5,234.3 179.5,234.8 181,235.5 C182.5,236.2 184.5,237.2 186,238 C187.5,238.8 188.6,238.8 190,240 C191.4,241.2 192.9,244 194.4,245.5 C195.9,247 197.4,248.3 198.8,249.2 C200.2,250.1 202.3,250.4 203,250.7" fill="none" stroke="#2a2a2a" stroke-width="1.1" stroke-linecap="round" stroke-linejoin="round"/>
<path d="M233,263 C234.2,263 237.7,262.7 240,263 C242.3,263.3 244.8,264.1 246.7,265 C248.6,265.9 249.8,267.1 251.7,268.3 C253.6,269.6 256.1,271.6 258.3,272.5 C260.5,273.4 262.7,273.7 265,274 C267.3,274.3 269.8,274.3 272,274.5 C274.2,274.7 276.5,274.8 278.3,275 C280.1,275.2 281.3,275.5 283,275.6 C284.7,275.7 286.3,276 288.3,275.8 C290.3,275.6 293.2,275.2 295,274.2 C296.8,273.2 298.1,271.5 299.2,270 C300.3,268.5 300.7,266.7 301.7,265 C302.7,263.3 303.6,261.1 305,260 C306.4,258.9 308.2,258.6 310,258.3 C311.8,258 314.8,258.3 315.8,258.3" fill="none" stroke="#2a2a2a" stroke-width="1.1" stroke-linecap="round" stroke-linejoin="round"/>
<path d="M185.9,372 C186,371 186.2,368 186.5,366 C186.8,364 187.1,362.8 187.5,360 C187.9,357.2 188.3,352.6 188.8,349 C189.3,345.4 189.3,341.9 190.3,338.7 C191.3,335.5 192.8,333.2 194.7,330 C196.6,326.8 199.6,322.8 202,319.6 C204.4,316.4 206.7,313.5 209.4,310.8 C212.1,308.1 215.3,305.7 218.2,303.5 C221.1,301.3 224.9,299.2 227,297.6 C229.1,296 229.5,295.2 230.5,294 C231.5,292.8 232,291.8 232.8,290.3 C233.6,288.8 234.6,286.7 235.3,285 C236,283.3 236.7,281.4 237.2,280 C237.7,278.6 237.5,278.1 238.5,276.7 C239.5,275.3 241.4,273.1 243.3,271.7 C245.2,270.3 248.9,268.9 250,268.3" fill="none" stroke="#2a2a2a" stroke-width="1.1" stroke-linecap="round" stroke-linejoin="round"/>
<path d="M43.3,296.6 C44.6,297.3 48.4,299.2 51,301 C53.6,302.8 56.3,305.4 58.7,307.6 C61.1,309.8 63.3,311.8 65.3,314.2 C67.3,316.6 69,319.4 70.8,322 C72.6,324.6 74.5,327.2 76.3,329.6 C78.1,332 79.8,334.2 81.8,336.2 C83.8,338.2 86,340.2 88.4,341.7 C90.8,343.2 93.9,344 96.2,345 C98.5,346 99.8,346.7 102,347.5 C104.2,348.3 106.3,349.2 109.3,350 C112.3,350.8 116.4,351.6 120,352.5 C123.6,353.4 127.7,354.2 130.7,355.3 C133.7,356.4 135.6,357.4 138,359 C140.4,360.6 143,363.1 145.3,364.7 C147.6,366.3 149.6,367.4 152,368.5 C154.4,369.6 157,370.6 160,371.3 C163,372 165.8,372.2 170,372.5 C174.2,372.8 180,372.8 185,373 C190,373.2 195.5,373.6 200,374 C204.5,374.4 207.8,374.8 212,375.5 C216.2,376.2 220.3,377.3 225,378.5 C229.7,379.7 237.5,381.8 240,382.5" fill="none" stroke="#2a2a2a" stroke-width="2.8" stroke-linecap="round" stroke-linejoin="round"/>
<text font-size="10.1" letter-spacing="0" font-weight="normal" font-style="normal" font-family="Liberation Sans" text-anchor="start" fill="#2a2a2a" stroke="#2a2a2a" stroke-width="0.4" transform="translate(40 310.5) rotate(43) scale(0.820 1)" textLength="76.83" lengthAdjust="spacing">Front 3.2.</text>
<path d="M103,343 L103.5,342.6 L104.1,342.2 L104.8,341.6 L105.6,341 L106.4,340.3 L107.3,339.6 L108.3,338.9 L109.2,338.2 L110.2,337.4 L111.1,336.7 L112,336 L112.8,335.4 L113.5,334.8 L114.3,334.1 L115.1,333.5 L115.9,332.9 L116.7,332.2 L117.5,331.6 L118.3,330.9 L119.1,330.3 L119.9,329.6 L120.7,329 L121.6,328.3 L122.4,327.7 L123.2,327.1 L124.1,326.4 L125.1,325.7 L126,325 L127,324.3 L127.9,323.7 L128.4,323.3" fill="none" stroke="#2a2a2a" stroke-width="2.8" stroke-linecap="round" stroke-linejoin="round"/><path d="M133,320 L128.8,327.9 L124.2,321.4Z" fill="#2a2a2a" stroke="#2a2a2a" stroke-width="0.8" stroke-linejoin="round"/>
<text font-size="9" letter-spacing="0" font-weight="normal" font-style="normal" font-family="Liberation Sans" text-anchor="start" fill="#2a2a2a" stroke="#2a2a2a" stroke-width="0.4" transform="translate(100.5 340.5) rotate(-40) scale(0.820 1)" textLength="24.39" lengthAdjust="spacing">LAH</text>
<text font-size="8" letter-spacing="0" font-weight="normal" font-style="normal" font-family="Liberation Sans" text-anchor="start" fill="#2a2a2a" stroke="#2a2a2a" stroke-width="0.4" transform="translate(113.3 309.8) scale(0.820 1)" textLength="28.05" lengthAdjust="spacing">Stepok</text>
<path d="M138,313 L141,310.5 L144,313 L147,312 L146,317 L143,321 L139,319Z" fill="url(#hatchd)" stroke="#2a2a2a" stroke-width="2.4" stroke-linejoin="round"/>
<path d="M125,347.5 L125.4,347.2 L125.9,346.9 L126.5,346.5 L127,346.1 L127.7,345.7 L128.3,345.3 L129,344.8 L129.8,344.3 L130.5,343.8 L131.3,343.3 L132.2,342.8 L133,342.2 L133.9,341.7 L134.8,341.1 L135.7,340.5 L136.6,339.8 L137.6,339.2 L138.5,338.6 L139.5,337.9 L140.4,337.3 L141.4,336.6 L142.3,335.9 L143.3,335.2 L144.2,334.5 L145.2,333.8 L146.1,333.1 L147,332.4 L147.9,331.7 L148.7,331 L149.6,330.3 L150.4,329.7 L151.1,329.1 L151.8,328.4 L152.5,327.8 L153.3,327.1 L154,326.4 L154.7,325.7 L155.4,325 L156.2,324.3 L156.9,323.6 L157.7,322.9 L158.4,322.1 L159.1,321.4 L159.9,320.6 L160.6,319.9 L161.3,319.1 L162.1,318.4 L162.8,317.6 L163.5,316.8 L164.3,316.1 L165,315.3 L165.7,314.5 L166.4,313.8 L167.2,313 L167.9,312.3 L168.6,311.6 L169.3,310.8 L170,310.1 L170.7,309.4 L171.4,308.7 L172,308 L172.7,307.3 L173.4,306.6 L174,306 L174.7,305.3 L175.4,304.6 L176.2,303.8 L177,303 L177.8,302.3 L178.6,301.5 L179.3,300.8 L180.1,300.1 L180.8,299.4 L181.5,298.7 L182.3,298 L183,297.3 L183.7,296.6 L184.4,295.9 L185.1,295.2 L185.8,294.6 L186.5,293.9 L187.2,293.2 L187.9,292.6 L188.6,291.9 L189.3,291.3 L190,290.6 L190.7,290 L191.4,289.3 L192.1,288.7 L192.8,288 L193.5,287.3 L194.3,286.7 L195,286 L195.8,285.3 L196.6,284.6 L197.4,283.9 L198.2,283.1 L199.1,282.4 L199.9,281.6 L200.8,280.8 L201.7,280 L202.6,279.3 L203.4,278.5 L204.3,277.7 L205.2,276.9 L206.1,276.2 L206.9,275.4 L207.8,274.7 L208.6,274 L209.4,273.3 L210.2,272.6 L210.5,272.3" fill="none" stroke="#2a2a2a" stroke-width="2.8" stroke-linecap="round" stroke-linejoin="round"/><path d="M215.5,268 L211.7,277.3 L205.7,270.5Z" fill="#2a2a2a" stroke="#2a2a2a" stroke-width="0.8" stroke-linejoin="round"/>
<text font-size="8.5" letter-spacing="0" font-weight="normal" font-style="normal" font-family="Liberation Sans" text-anchor="start" fill="#2a2a2a" stroke="#2a2a2a" stroke-width="0.4" transform="translate(120 344.5) rotate(-37) scale(0.820 1)" textLength="54.88" lengthAdjust="spacing">17. Pz. Div.</text>
<path d="M138.5,352.5 L138.9,352.2 L139.4,351.8 L139.9,351.4 L140.5,350.9 L141.1,350.5 L141.7,350 L142.4,349.4 L143.1,348.9 L143.8,348.3 L144.6,347.7 L145.4,347.1 L146.2,346.4 L147,345.8 L147.9,345.1 L148.8,344.4 L149.7,343.7 L150.6,342.9 L151.5,342.2 L152.4,341.5 L153.3,340.7 L154.2,340 L155.1,339.2 L156,338.4 L156.9,337.7 L157.8,336.9 L158.7,336.1 L159.6,335.4 L160.3,334.7 L161,334.1 L161.7,333.4 L162.4,332.8 L163.1,332.1 L163.8,331.5 L164.6,330.8 L165.3,330.1 L166,329.4 L166.8,328.7 L167.5,328 L168.3,327.3 L169,326.5 L169.8,325.8 L170.5,325.1 L171.3,324.3 L172,323.6 L172.8,322.8 L173.5,322.1 L174.3,321.4 L175,320.6 L175.8,319.9 L176.5,319.2 L177.3,318.4 L178,317.7 L178.7,317 L179.5,316.3 L180.2,315.6 L180.9,314.9 L181.6,314.2 L182.3,313.5 L183,312.9 L183.7,312.2 L184.3,311.6 L185,311 L185.8,310.2 L186.7,309.4 L187.5,308.7 L188.3,307.9 L189.1,307.2 L189.9,306.5 L190.6,305.8 L191.4,305.1 L192.1,304.4 L192.9,303.7 L193.6,303 L194.4,302.4 L195.1,301.7 L195.8,301 L196.6,300.4 L197.3,299.7 L198,299.1 L198.7,298.5 L199.4,297.8 L200.2,297.2 L200.9,296.5 L201.6,295.9 L202.4,295.3 L203.1,294.6 L203.9,294 L204.6,293.3 L205.4,292.7 L206.2,292 L207,291.3 L207.9,290.6 L208.8,289.9 L209.7,289.1 L210.6,288.4 L211.5,287.6 L212.4,286.9 L213.3,286.2 L214.2,285.4 L215.2,284.7 L216.1,284 L216.9,283.3 L217.8,282.6 L218.7,281.9 L219.5,281.3 L220.3,280.6 L220.3,280.6" fill="none" stroke="#2a2a2a" stroke-width="2.8" stroke-linecap="round" stroke-linejoin="round"/><path d="M225.5,276.5 L221.3,285.6 L215.6,278.6Z" fill="#2a2a2a" stroke="#2a2a2a" stroke-width="0.8" stroke-linejoin="round"/>
<text font-size="8.5" letter-spacing="0" font-weight="normal" font-style="normal" font-family="Liberation Sans" text-anchor="start" fill="#2a2a2a" stroke="#2a2a2a" stroke-width="0.4" transform="translate(135 347.5) rotate(-36) scale(0.820 1)" textLength="56.10" lengthAdjust="spacing">16. Pz. Div.</text>
<text font-size="10.1" letter-spacing="0" font-weight="normal" font-style="normal" font-family="Liberation Sans" text-anchor="start" fill="#2a2a2a" stroke="#2a2a2a" stroke-width="0.4" transform="translate(151 358.5) rotate(-42) scale(0.820 1)" textLength="121.95" lengthAdjust="spacing">2. Entsatzangriff</text>
<path d="M170,367 L170.4,366.6 L170.9,366 L171.5,365.4 L172.1,364.7 L172.8,363.9 L173.6,363.1 L174.4,362.2 L175.2,361.4 L176,360.5 L176.8,359.6 L177.6,358.8 L178.3,358 L179,357.3 L179.7,356.6 L180.5,355.9 L181.3,355.1 L182.1,354.3 L182.9,353.7 L183.6,353.1 L184.4,352.5 L185.1,352 L185.8,351.4 L186.6,350.8 L187.4,350.2 L188.2,349.6 L189,348.9 L189.8,348.3 L190.6,347.7 L191.5,347.1 L192.3,346.4 L193.1,345.8 L193.9,345.2 L194.7,344.6 L195.5,344 L196.3,343.3 L197.2,342.7 L198,342.1 L198.8,341.5 L199.6,340.9 L200.4,340.3 L201.2,339.6 L202,339 L202.8,338.4 L203.5,337.8 L204.3,337.1 L205.1,336.5 L205.9,335.8 L206.7,335.2 L207.4,334.5 L208.2,333.8 L209,333.2 L209.8,332.5 L210.5,331.8 L211.2,331.1 L211.9,330.4 L212.7,329.7 L213.4,329 L214.1,328.3 L214.9,327.6 L215.6,326.9 L216.3,326.2 L217,325.5 L217.7,324.8 L218.5,324 L219.2,323.3 L219.9,322.6 L220.6,321.8 L221.3,321.1 L222,320.3 L222.7,319.6 L223.3,318.9 L224,318.2 L224.8,317.4 L225.5,316.6 L226.2,315.8 L226.9,315 L227.7,314.2 L228.3,313.4 L229,312.7 L229.7,311.9 L230.3,311.1 L231,310.3 L231.6,309.5 L232.2,308.7 L232.7,308 L233.3,307.2 L234,306.3 L234.6,305.5 L235.3,304.6 L235.9,303.9 L236.4,303.1 L237,302.3 L237.7,301.5 L238.3,300.7 L239,299.8 L239.6,299 L240.3,298.2 L241,297.4 L241.7,296.7 L242.4,296 L243.2,295.3 L244,294.6 L244.7,293.9 L245.5,293.3 L246.4,292.6 L247.2,292 L248,291.4 L248.8,290.8 L249.6,290.3 L250.5,289.7 L251.3,289.1 L252.2,288.6 L253,288.1 L253.8,287.6 L254.7,287.2 L255.6,286.8 L256.6,286.4 L257.7,286 L258.7,285.7 L259.6,285.4 L260.5,285.2 L261.5,285 L262.5,284.8 L263.5,284.6 L264.5,284.4 L265.6,284.3 L266.6,284.1 L267.7,283.9 L268.7,283.8 L269.8,283.6 L270.8,283.5 L271.7,283.3 L272.8,283.1 L273.9,283 L274.9,282.8 L276,282.7 L277,282.5 L278.1,282.4 L279.1,282.3 L280.1,282.2 L281,282 L282,281.9 L282.9,281.8 L283.9,281.6 L285,281.4 L286,281.3 L287,281.1 L287.9,281 L288.9,280.8 L289.8,280.6 L290.7,280.3 L291.7,280 L292.6,279.6 L293.6,279.3 L294.5,278.8 L295.5,278.3 L296.4,277.9 L297.4,277.4 L298.3,276.8 L299.1,276.3 L300,275.8 L300.9,275.2 L301.8,274.6 L302.6,274 L303.4,273.4 L304.3,272.8 L305.1,272.1 L305.9,271.5 L306.7,270.8 L307.5,270.1 L308.4,269.4 L308.9,269" fill="none" stroke="#2a2a2a" stroke-width="2.8" stroke-linecap="round" stroke-linejoin="round"/><path d="M313.5,265 L310,273.2 L304.8,267.2Z" fill="#2a2a2a" stroke="#2a2a2a" stroke-width="0.8" stroke-linejoin="round"/>
<text font-size="9.5" letter-spacing="0" font-weight="normal" font-style="normal" font-family="Liberation Sans" text-anchor="start" fill="#2a2a2a" stroke="#2a2a2a" stroke-width="0.4" transform="translate(194.5 339.5) rotate(-48) scale(0.820 1)" textLength="56.10" lengthAdjust="spacing">1. Pz. Div.</text>
<path d="M209,341 L214,339 L217,342 L222,338.5 L225,343 L220,347 L222,352 L214,351 L211,346Z" fill="url(#hatchd)" stroke="#2a2a2a" stroke-width="2.4" stroke-linejoin="round"/>
<text font-size="9" letter-spacing="0" font-weight="normal" font-style="normal" font-family="Liberation Sans" text-anchor="start" fill="#2a2a2a" stroke="#2a2a2a" stroke-width="0.4" transform="translate(228 344) scale(0.820 1)" textLength="54.88" lengthAdjust="spacing">Jablonow-</text>
<text font-size="9" letter-spacing="0" font-weight="normal" font-style="normal" font-family="Liberation Sans" text-anchor="start" fill="#2a2a2a" stroke="#2a2a2a" stroke-width="0.4" transform="translate(228 351.5) scale(0.820 1)" textLength="14.02" lengthAdjust="spacing">Ka</text>
<text font-size="9" letter-spacing="0" font-weight="normal" font-style="normal" font-family="Liberation Sans" text-anchor="start" fill="#2a2a2a" stroke="#2a2a2a" stroke-width="0.4" transform="translate(143.6 277.3) scale(0.820 1)" textLength="48.78" lengthAdjust="spacing">Bessowka</text>
<path d="M153,292 L158,289 L162,286 L165,283.5 L170,284.5 L174,282 L177,285 L180.5,287 L179,291 L177,294 L176,298 L171,299 L167,302.5 L162,301 L158,298 L154,297Z" fill="url(#hatchd)" stroke="#2a2a2a" stroke-width="2.4" stroke-linejoin="round"/>
<text font-size="9.5" letter-spacing="0" font-weight="normal" font-style="normal" font-family="Liberation Sans" text-anchor="start" fill="#2a2a2a" stroke="#2a2a2a" stroke-width="0.4" transform="translate(155.3 222.5) scale(0.820 1)" textLength="50.85" lengthAdjust="spacing">Pogibljak</text>
<path d="M168,232 L172,229 L176,229 L181,226.5 L186,226 L187.5,229 L184,233.5 L183,237 L177,239 L174,242 L169,240.5 L166.5,236Z" fill="url(#hatchd)" stroke="#2a2a2a" stroke-width="2.4" stroke-linejoin="round"/>
<path d="M62,381 L70,375 L75,376 L79,369 L86,368 L92,363 L93,369 L88,374 L84,381 L76,384 L70,388 L63,387Z" fill="url(#hatch)" stroke="#2a2a2a" stroke-width="2.4" stroke-linejoin="round"/>
<text font-size="8.5" letter-spacing="0" font-weight="normal" font-style="normal" font-family="Liberation Sans" text-anchor="start" fill="#2a2a2a" stroke="#2a2a2a" stroke-width="0.4" transform="translate(88 378.5) scale(0.820 1)" textLength="37.44" lengthAdjust="spacing">Rübany</text>
<text font-size="8.5" letter-spacing="0" font-weight="normal" font-style="normal" font-family="Liberation Sans" text-anchor="start" fill="#2a2a2a" stroke="#2a2a2a" stroke-width="0.4" transform="translate(88 387) scale(0.820 1)" textLength="22.80" lengthAdjust="spacing">Most</text>
<path d="M201.7,239.6 L204.7,236.7 L208.4,239 L209,243.3 L214.2,247 L220.8,248.5 L223.8,252.9 L228.2,255.8 L232.6,258.7 L233.3,264.6 L230.4,270.5 L226.7,268.3 L222.3,264.6 L219.4,258.7 L212,256.5 L206.2,256.5 L204,253.6 L202.5,250 L201,247 L204,244Z" fill="url(#hatchd)" stroke="#2a2a2a" stroke-width="2.4" stroke-linejoin="round"/>
<text font-size="8" letter-spacing="0" font-weight="normal" font-style="normal" font-family="Liberation Sans" text-anchor="start" fill="#2a2a2a" stroke="#2a2a2a" stroke-width="0.4" transform="translate(212.7 246.5) scale(0.820 1)" textLength="39.02" lengthAdjust="spacing">Kamenz</text>
<text font-size="8" letter-spacing="0" font-weight="normal" font-style="normal" font-family="Liberation Sans" text-anchor="start" fill="#2a2a2a" stroke="#2a2a2a" stroke-width="0.4" transform="translate(227.3 253.3) scale(0.820 1)" textLength="21.22" lengthAdjust="spacing">Brod</text>
<path d="M227,240 C227.7,239.5 229.4,237.8 231,237 C232.6,236.2 234.8,235.5 236.5,235.5 C238.2,235.5 239.7,236.2 241,237 C242.3,237.8 243.9,239.5 244.5,240" fill="none" stroke="#2a2a2a" stroke-width="2.5" stroke-linecap="round" stroke-linejoin="round"/>
<text font-size="8.5" letter-spacing="0" font-weight="normal" font-style="normal" font-family="Liberation Sans" text-anchor="start" fill="#2a2a2a" stroke="#2a2a2a" stroke-width="0.4" transform="translate(235.7 214.5) scale(0.820 1)" textLength="61.59" lengthAdjust="spacing">Daschukowka</text>
<path d="M241,218 L244,216 L249,217.5 L254.5,216.5 L254,220.5 L251,222 L250.5,226.5 L246,227 L245.5,222 L241.5,221Z" fill="url(#hatchd)" stroke="#2a2a2a" stroke-width="2.4" stroke-linejoin="round"/>
<path d="M258.3,245.8 C259.4,245.2 262.6,243.2 265,242.5 C267.4,241.8 270.8,241.3 272.5,241.7 C274.2,242.1 274.4,243.4 275.5,245 C276.6,246.6 278.4,250 279,251" fill="none" stroke="#2a2a2a" stroke-width="2.6" stroke-linecap="round" stroke-linejoin="round"/>
<text font-size="9" letter-spacing="0" font-weight="normal" font-style="normal" font-family="Liberation Sans" text-anchor="start" fill="#2a2a2a" stroke="#2a2a2a" stroke-width="0.4" transform="translate(254.2 266.7) scale(0.820 1)" textLength="45.73" lengthAdjust="spacing">Büshanka</text>
<path d="M260,272 L264,268 L276,267.5 L277.5,273 L272,277 L266,278Z" fill="url(#hatchd)" stroke="#2a2a2a" stroke-width="2.4" stroke-linejoin="round"/>
<text font-size="9" letter-spacing="0" font-weight="normal" font-style="normal" font-family="Liberation Sans" text-anchor="start" fill="#2a2a2a" stroke="#2a2a2a" stroke-width="0.4" transform="translate(290 253.5) scale(0.820 1)" textLength="50.85" lengthAdjust="spacing">Lissjanka</text>
<path d="M317,256 L319.5,253.5 L324,253 L328,254 L330,257 L328.5,261 L327,263.5 L329,267 L330.5,272 L330,278 L327,283 L321,283.5 L317,280 L316.5,274 L318,268 L317.5,263 L316.5,259Z" fill="url(#hatchd)" stroke="#2a2a2a" stroke-width="2.4" stroke-linejoin="round"/>
<path d="M330.8,263.3 C331.2,262.2 332.2,258.6 333.3,256.7 C334.4,254.8 335.8,252.8 337.5,251.7 C339.2,250.6 341.2,250.4 343.3,250 C345.4,249.6 347.8,249.5 350,249.2 C352.2,248.9 354.9,248.2 356.7,248.3 C358.5,248.4 359.7,249 360.8,250 C361.9,251 362.5,252.8 363.3,254.2 C364.1,255.6 364.8,256.8 365.8,258.3 C366.8,259.8 368.2,261.8 369.2,263.3 C370.2,264.8 370.9,266.1 371.7,267.5 C372.5,268.9 373.4,270 374.2,271.7 C375,273.4 375.7,275.8 376.7,277.5 C377.7,279.2 378.6,280.4 380,281.7 C381.4,282.9 383.3,283.9 385,285 C386.7,286.1 388.3,287.9 390,288.3 C391.7,288.7 393.3,287.9 395,287.5 C396.7,287.1 398.6,285.9 400,285.8 C401.4,285.7 402.2,286 403.3,286.7 C404.4,287.4 405.7,288.9 406.7,290 C407.7,291.1 408.6,291.9 409.2,293.3 C409.8,294.7 409.9,296.6 410,298.3 C410.1,300 410,302.5 410,303.3" fill="none" stroke="#2a2a2a" stroke-width="1.1" stroke-linecap="round" stroke-linejoin="round"/>
<path d="M331.5,285.5 C331.9,284.7 333.2,282.1 334,280.5 C334.8,278.9 336.1,276.8 336.5,276" fill="none" stroke="#2a2a2a" stroke-width="2.5" stroke-linecap="round" stroke-linejoin="round"/>
<path d="M339.5,270 L339.8,264.5" fill="none" stroke="#2a2a2a" stroke-width="1.9" stroke-linecap="round" stroke-linejoin="round"/>
<path d="M336.5,262.3 C337.1,262.7 338.7,264.5 339.8,264.5 C340.9,264.5 342.5,262.7 343,262.3" fill="none" stroke="#2a2a2a" stroke-width="1.9" stroke-linecap="round" stroke-linejoin="round"/>
<path d="M328,245 L328.5,244.6 L329.2,244.1 L330.1,243.5 L331,242.8 L332,242.1 L332.9,241.4 L333.9,240.8 L334.7,240.2 L335.6,239.6 L336.4,239 L337.2,238.5 L338,238.1 L339,237.5 L339.8,237.1 L340.8,236.5 L341.4,236.3" fill="none" stroke="#2a2a2a" stroke-width="2.8" stroke-linecap="round" stroke-linejoin="round"/><path d="M346,234 L341.3,240.3 L338.2,234Z" fill="#2a2a2a" stroke="#2a2a2a" stroke-width="0.8" stroke-linejoin="round"/>
<text font-size="8.5" letter-spacing="0" font-weight="normal" font-style="normal" font-family="Liberation Sans" text-anchor="start" fill="#2a2a2a" stroke="#2a2a2a" stroke-width="0.4" transform="translate(315.4 229.4) scale(0.820 1)" textLength="34.88" lengthAdjust="spacing">Oktjabr</text>
<path d="M347.2,222 L356.3,222.3 L357.5,231.2" fill="none" stroke="#2a2a2a" stroke-width="2.2" stroke-linecap="round" stroke-linejoin="round"/>
<path d="M347.5,227.5 L351.5,226.3 L352.8,228.5 L353,232" fill="none" stroke="#2a2a2a" stroke-width="2.2" stroke-linecap="round" stroke-linejoin="round"/>
<path d="M346.3,230.5 L347.5,232" fill="none" stroke="#2a2a2a" stroke-width="2" stroke-linecap="round" stroke-linejoin="round"/>
<clipPath id="hb7"><path d="M359,222.7 L359.3,223.4 L359.7,224.1 L360.1,224.8 L360.5,225.5 L360.9,226.2 L361.3,226.9 L361.7,227.6 L362.1,228.4 L362.5,229.1 L363,229.8 L363.5,230.5 L363.9,231.2 L364.4,231.9 L364.9,232.6 L365.4,233.3 L365.8,234 L366.3,234.6 L366.8,235.3 L367.3,236 L367.8,236.6 L368.4,237.3 L368.9,238 L369.5,238.6 L370,239.3 L370.6,239.9 L371.2,240.5 L371.7,241.1 L372.3,241.7 L372.8,242.2 L372.9,242.4 L378.1,237.6 L377.9,237.5 L377.4,236.9 L376.8,236.3 L376.3,235.7 L375.8,235.2 L375.2,234.6 L374.7,234 L374.3,233.5 L373.8,232.9 L373.3,232.3 L372.9,231.7 L372.4,231.1 L372,230.5 L371.5,229.9 L371.1,229.2 L370.6,228.6 L370.2,228 L369.8,227.3 L369.3,226.7 L368.9,226.1 L368.5,225.5 L368.1,224.8 L367.8,224.1 L367.4,223.5 L367,222.8 L366.6,222.1 L366.2,221.4 L365.8,220.7 L365.5,220 L365,219.3Z"/></clipPath><path d="M358.2,221.4 L366.7,222.4 M359.9,224.5 L368.4,225.3 M361.6,227.6 L370.1,228 M363.5,230.6 L372,230.6 M365.5,233.5 L374,233.2 M367.6,236.4 L376.1,235.6 M369.9,239.2 L378.4,237.9 M371.3,240.6 L379.7,239.4 " stroke="#2a2a2a" stroke-width="1.4" fill="none" clip-path="url(#hb7)"/><path d="M359,222.7 L359.3,223.4 L359.7,224.1 L360.1,224.8 L360.5,225.5 L360.9,226.2 L361.3,226.9 L361.7,227.6 L362.1,228.4 L362.5,229.1 L363,229.8 L363.5,230.5 L363.9,231.2 L364.4,231.9 L364.9,232.6 L365.4,233.3 L365.8,234 L366.3,234.6 L366.8,235.3 L367.3,236 L367.8,236.6 L368.4,237.3 L368.9,238 L369.5,238.6 L370,239.3 L370.6,239.9 L371.2,240.5 L371.7,241.1 L372.3,241.7 L372.8,242.2 L372.9,242.4 L378.1,237.6 L377.9,237.5 L377.4,236.9 L376.8,236.3 L376.3,235.7 L375.8,235.2 L375.2,234.6 L374.7,234 L374.3,233.5 L373.8,232.9 L373.3,232.3 L372.9,231.7 L372.4,231.1 L372,230.5 L371.5,229.9 L371.1,229.2 L370.6,228.6 L370.2,228 L369.8,227.3 L369.3,226.7 L368.9,226.1 L368.5,225.5 L368.1,224.8 L367.8,224.1 L367.4,223.5 L367,222.8 L366.6,222.1 L366.2,221.4 L365.8,220.7 L365.5,220 L365,219.3Z" fill="none" stroke="#2a2a2a" stroke-width="1.2" stroke-linejoin="round"/>
<text font-size="8" letter-spacing="0" font-weight="normal" font-style="normal" font-family="Liberation Sans" text-anchor="start" fill="#2a2a2a" stroke="#2a2a2a" stroke-width="0.4" transform="translate(340 248) rotate(5) scale(0.820 1)" textLength="36.59" lengthAdjust="spacing">Gniloi</text>
<text font-size="8" letter-spacing="0" font-weight="normal" font-style="normal" font-family="Liberation Sans" text-anchor="start" fill="#2a2a2a" stroke="#2a2a2a" stroke-width="0.4" transform="translate(375 263) rotate(40) scale(0.820 1)" textLength="46.34" lengthAdjust="spacing">Tikitsch</text>
<path d="M324,182 L324.5,182.3 L325.1,182.8 L325.8,183.3 L326.6,183.9 L327.5,184.5 L328.4,185.1 L329.3,185.8 L330.3,186.5 L331.3,187.2 L332.2,187.8 L333.1,188.4 L334,189 L334.9,189.6 L335.7,190.1 L336.6,190.7 L337.5,191.2 L338.3,191.7 L339.2,192.3 L340.1,192.8 L341,193.3 L341.8,193.8 L342.7,194.3 L343.6,194.8 L344.5,195.2 L345.4,195.7 L346.3,196.2 L347.3,196.7 L348.2,197.2 L349.1,197.6 L350.1,198.1 L351,198.5 L351.9,199 L352.7,199.4 L353.6,199.8 L354.5,200.3 L355.5,200.8 L356.5,201.2 L357.4,201.7 L358.4,202.2 L359.3,202.6 L360.2,203.1 L361.1,203.5 L362,204 L362.9,204.5 L363.9,204.9 L364.8,205.4 L365.8,205.9 L366.7,206.4 L367.6,206.8 L368.6,207.3 L369.5,207.8 L370.5,208.2 L371.4,208.7 L372.5,209.2 L373,209.4" fill="none" stroke="#2a2a2a" stroke-width="2.8" stroke-linecap="round" stroke-linejoin="round"/><path d="M378.2,211.8 L369.3,212.1 L372.6,204.8Z" fill="#2a2a2a" stroke="#2a2a2a" stroke-width="0.8" stroke-linejoin="round"/>
<text font-size="8" letter-spacing="0" font-weight="normal" font-style="normal" font-family="Liberation Sans" text-anchor="start" fill="#2a2a2a" stroke="#2a2a2a" stroke-width="0.4" transform="translate(320 193) rotate(27) scale(0.820 1)" textLength="68.29" lengthAdjust="spacing">Pz. Rgt. Bäcke</text>
<path d="M364.5,171 L368,167.5 L373,168 L377,166.5 L381,168 L385,169 L388,172.5 L388.5,178 L390.5,183 L389,188 L385.5,191 L383,195.5 L378,195.5 L374,194 L369,196 L365.5,193 L364.5,188 L366,183 L365,177Z" fill="url(#hatchd)" stroke="#2a2a2a" stroke-width="2.4" stroke-linejoin="round"/>
<path d="M367,174.5 L384,174 L386,179 L385,184 L382,189.5 L376,190.5 L368,190 L367,183Z" fill="#fff" stroke="none" stroke-width="0" stroke-linejoin="round"/>
<text font-size="8" letter-spacing="0" font-weight="normal" font-style="normal" font-family="Liberation Sans" text-anchor="start" fill="#2a2a2a" stroke="#2a2a2a" stroke-width="0.4" transform="translate(356.7 182.5) scale(0.820 1)" textLength="35.37" lengthAdjust="spacing">Dshürs-</text>
<text font-size="8" letter-spacing="0" font-weight="normal" font-style="normal" font-family="Liberation Sans" text-anchor="start" fill="#2a2a2a" stroke="#2a2a2a" stroke-width="0.4" transform="translate(360.8 189) scale(0.820 1)" textLength="27.44" lengthAdjust="spacing">henzy</text>
<clipPath id="hb8"><path d="M346,178.9 L346.5,179.6 L347,180.3 L347.4,180.9 L347.8,181.6 L348.3,182.2 L348.7,182.9 L349.1,183.6 L349.5,184.2 L349.9,184.8 L350.3,185.5 L350.6,186.1 L350.9,186.7 L351.2,187.3 L351.5,187.9 L351.7,188.6 L352,189.3 L352.3,190 L352.5,190.7 L352.8,191.5 L353,192.3 L353.3,193.1 L353.6,193.9 L353.9,194.6 L354.2,195.4 L354.5,196.1 L354.7,196.9 L355,197.6 L355.3,198.4 L355.6,199.1 L355.9,199.9 L356.2,200.6 L356.5,201.4 L356.8,202.1 L357.1,202.9 L357.2,203.3 L363.8,200.7 L363.6,200.3 L363.3,199.6 L363,198.8 L362.7,198.1 L362.4,197.3 L362.1,196.6 L361.9,195.8 L361.6,195.1 L361.3,194.4 L361,193.6 L360.7,192.9 L360.4,192.1 L360.1,191.4 L359.9,190.7 L359.6,190 L359.4,189.3 L359.1,188.5 L358.9,187.7 L358.6,186.9 L358.3,186.1 L358,185.3 L357.6,184.4 L357.2,183.6 L356.8,182.8 L356.4,182 L355.9,181.2 L355.5,180.5 L355,179.8 L354.6,179.1 L354.1,178.4 L353.7,177.7 L353.2,177.1 L352.8,176.4 L352.4,175.7 L352,175.1Z"/></clipPath><path d="M345.3,177.7 L353.8,178 M347.2,180.5 L355.7,180.8 M349,183.2 L357.5,184 M350.6,185.7 L358.9,187.6 M351.8,188.6 L360,191 M352.9,192 L361.2,194.1 M354.1,195.2 L362.4,197.2 M355.3,198.4 L363.6,200.4 M356.3,201 L364.7,203 " stroke="#2a2a2a" stroke-width="1.4" fill="none" clip-path="url(#hb8)"/><path d="M346,178.9 L346.5,179.6 L347,180.3 L347.4,180.9 L347.8,181.6 L348.3,182.2 L348.7,182.9 L349.1,183.6 L349.5,184.2 L349.9,184.8 L350.3,185.5 L350.6,186.1 L350.9,186.7 L351.2,187.3 L351.5,187.9 L351.7,188.6 L352,189.3 L352.3,190 L352.5,190.7 L352.8,191.5 L353,192.3 L353.3,193.1 L353.6,193.9 L353.9,194.6 L354.2,195.4 L354.5,196.1 L354.7,196.9 L355,197.6 L355.3,198.4 L355.6,199.1 L355.9,199.9 L356.2,200.6 L356.5,201.4 L356.8,202.1 L357.1,202.9 L357.2,203.3 L363.8,200.7 L363.6,200.3 L363.3,199.6 L363,198.8 L362.7,198.1 L362.4,197.3 L362.1,196.6 L361.9,195.8 L361.6,195.1 L361.3,194.4 L361,193.6 L360.7,192.9 L360.4,192.1 L360.1,191.4 L359.9,190.7 L359.6,190 L359.4,189.3 L359.1,188.5 L358.9,187.7 L358.6,186.9 L358.3,186.1 L358,185.3 L357.6,184.4 L357.2,183.6 L356.8,182.8 L356.4,182 L355.9,181.2 L355.5,180.5 L355,179.8 L354.6,179.1 L354.1,178.4 L353.7,177.7 L353.2,177.1 L352.8,176.4 L352.4,175.7 L352,175.1Z" fill="none" stroke="#2a2a2a" stroke-width="1.2" stroke-linejoin="round"/>
<clipPath id="hb9"><path d="M389.6,168.7 L389.8,169.6 L389.9,170.4 L390.1,171.1 L390.3,171.9 L390.5,172.6 L390.6,173.4 L390.7,174.1 L390.8,174.8 L390.9,175.5 L391,176.1 L391,176.8 L391,177.5 L391,178.2 L391,178.9 L391,179.7 L390.9,180.4 L390.9,181.2 L390.8,181.9 L390.7,182.7 L390.7,183.4 L390.6,184.2 L390.5,185 L390.4,185.7 L390.3,186.4 L390.1,187.2 L390,187.9 L389.8,188.7 L389.7,189.4 L389.5,190.2 L389.3,191 L389.2,191.8 L389.1,192.3 L395.9,193.7 L396,193.2 L396.2,192.4 L396.4,191.7 L396.5,190.9 L396.7,190.1 L396.9,189.2 L397,188.4 L397.2,187.6 L397.3,186.7 L397.4,185.9 L397.5,185 L397.6,184.2 L397.7,183.4 L397.8,182.6 L397.9,181.7 L397.9,180.9 L398,180 L398,179.2 L398,178.3 L398,177.4 L398,176.5 L398,175.6 L397.9,174.6 L397.8,173.8 L397.6,172.9 L397.5,172 L397.3,171.2 L397.1,170.4 L396.9,169.6 L396.8,168.8 L396.6,168 L396.4,167.3Z"/></clipPath><path d="M389.3,167.4 L397.2,170.6 M390,170.6 L397.9,174 M390.8,173.5 L398.1,177.9 M391.1,176.5 L397.9,181.7 M391,179.7 L397.5,185.2 M390.8,182.9 L397,188.7 M390.3,186.1 L396.2,192.3 M389.7,189.4 L395.5,195.6 " stroke="#2a2a2a" stroke-width="1.4" fill="none" clip-path="url(#hb9)"/><path d="M389.6,168.7 L389.8,169.6 L389.9,170.4 L390.1,171.1 L390.3,171.9 L390.5,172.6 L390.6,173.4 L390.7,174.1 L390.8,174.8 L390.9,175.5 L391,176.1 L391,176.8 L391,177.5 L391,178.2 L391,178.9 L391,179.7 L390.9,180.4 L390.9,181.2 L390.8,181.9 L390.7,182.7 L390.7,183.4 L390.6,184.2 L390.5,185 L390.4,185.7 L390.3,186.4 L390.1,187.2 L390,187.9 L389.8,188.7 L389.7,189.4 L389.5,190.2 L389.3,191 L389.2,191.8 L389.1,192.3 L395.9,193.7 L396,193.2 L396.2,192.4 L396.4,191.7 L396.5,190.9 L396.7,190.1 L396.9,189.2 L397,188.4 L397.2,187.6 L397.3,186.7 L397.4,185.9 L397.5,185 L397.6,184.2 L397.7,183.4 L397.8,182.6 L397.9,181.7 L397.9,180.9 L398,180 L398,179.2 L398,178.3 L398,177.4 L398,176.5 L398,175.6 L397.9,174.6 L397.8,173.8 L397.6,172.9 L397.5,172 L397.3,171.2 L397.1,170.4 L396.9,169.6 L396.8,168.8 L396.6,168 L396.4,167.3Z" fill="none" stroke="#2a2a2a" stroke-width="1.2" stroke-linejoin="round"/>
<path d="M397.5,181 L401.5,180.3" fill="none" stroke="#2a2a2a" stroke-width="1.6" stroke-linecap="round" stroke-linejoin="round"/>
<clipPath id="hb10"><path d="M381.5,205.6 L382.3,205.9 L383.1,206.1 L383.8,206.4 L384.6,206.7 L385.3,207 L386.1,207.2 L386.8,207.5 L387.6,207.8 L388.3,208.1 L389.1,208.3 L389.8,208.6 L390.6,208.9 L391,209.1 L393,203.9 L392.5,203.7 L391.7,203.5 L391,203.2 L390.2,202.9 L389.5,202.6 L388.7,202.4 L388,202.1 L387.2,201.8 L386.5,201.5 L385.7,201.2 L385,201 L384.2,200.7 L383.5,200.4Z"/></clipPath><path d="M380.7,205.3 L386.2,201.4 M383.9,206.4 L389.4,202.6 M387.1,207.6 L392.6,203.8 M389.2,208.4 L394.8,204.6 " stroke="#2a2a2a" stroke-width="1.4" fill="none" clip-path="url(#hb10)"/><path d="M381.5,205.6 L382.3,205.9 L383.1,206.1 L383.8,206.4 L384.6,206.7 L385.3,207 L386.1,207.2 L386.8,207.5 L387.6,207.8 L388.3,208.1 L389.1,208.3 L389.8,208.6 L390.6,208.9 L391,209.1 L393,203.9 L392.5,203.7 L391.7,203.5 L391,203.2 L390.2,202.9 L389.5,202.6 L388.7,202.4 L388,202.1 L387.2,201.8 L386.5,201.5 L385.7,201.2 L385,201 L384.2,200.7 L383.5,200.4Z" fill="none" stroke="#2a2a2a" stroke-width="1.2" stroke-linejoin="round"/>
<text font-size="8" letter-spacing="0" font-weight="normal" font-style="normal" font-family="Liberation Sans" text-anchor="start" fill="#2a2a2a" stroke="#2a2a2a" stroke-width="0.4" transform="translate(395 207.5) scale(0.820 1)" textLength="18.29" lengthAdjust="spacing">259</text>
<text font-size="8" letter-spacing="0" font-weight="normal" font-style="normal" font-family="Liberation Sans" text-anchor="start" fill="#2a2a2a" stroke="#2a2a2a" stroke-width="0.4" transform="translate(385.8 228) scale(0.820 1)" textLength="33.54" lengthAdjust="spacing">Potscha</text>
<text font-size="8" letter-spacing="0" font-weight="normal" font-style="normal" font-family="Liberation Sans" text-anchor="start" fill="#2a2a2a" stroke="#2a2a2a" stroke-width="0.4" transform="translate(385.5 236.5) scale(0.820 1)" textLength="25.00" lengthAdjust="spacing">pinzy</text>
<clipPath id="hb11"><path d="M394.6,216.1 L395.3,216.5 L396,216.9 L396.7,217.3 L397.4,217.7 L398.1,218 L398.8,218.4 L399.5,218.8 L400.2,219.2 L400.9,219.6 L401.6,219.9 L402.3,220.3 L403,220.7 L403.7,221.1 L404.4,221.5 L405.1,221.8 L405.8,222.2 L406.5,222.6 L407.2,223 L407.9,223.4 L408.6,223.8 L409.3,224.1 L410,224.5 L410.8,224.9 L411.5,225.3 L412.2,225.7 L412.8,226 L413.5,226.4 L414.2,226.8 L414.9,227.2 L415.6,227.6 L416.3,228 L416.9,228.4 L417.6,228.8 L418.3,229.2 L418.9,229.6 L419.6,230 L420.3,230.4 L420.9,230.8 L421.6,231.3 L422.3,231.7 L423,232.1 L423.6,232.5 L424.3,233 L424.4,233 L427.6,228 L427.5,227.9 L426.9,227.5 L426.2,227.1 L425.5,226.6 L424.8,226.2 L424.2,225.8 L423.5,225.3 L422.8,224.9 L422.1,224.5 L421.4,224 L420.7,223.6 L420,223.2 L419.3,222.8 L418.6,222.4 L417.9,222 L417.2,221.6 L416.4,221.2 L415.7,220.8 L415,220.4 L414.3,220 L413.6,219.6 L412.9,219.2 L412.2,218.9 L411.5,218.5 L410.8,218.1 L410.1,217.7 L409.4,217.3 L408.7,217 L408,216.6 L407.3,216.2 L406.6,215.8 L405.9,215.4 L405.2,215 L404.5,214.7 L403.8,214.3 L403.1,213.9 L402.4,213.5 L401.6,213.1 L400.9,212.8 L400.2,212.4 L399.5,212 L398.8,211.6 L398.1,211.2 L397.4,210.9Z"/></clipPath><path d="M393.6,215.6 L400.2,212.3 M396.6,217.2 L403.2,214 M399.6,218.9 L406.2,215.6 M402.6,220.5 L409.1,217.2 M405.6,222.1 L412.1,218.8 M408.6,223.7 L415.1,220.4 M411.5,225.3 L418.1,222.1 M414.5,226.9 L421.1,223.8 M417.3,228.6 L424.1,225.7 M420.2,230.3 L427,227.6 M422.6,231.9 L429.4,229.1 " stroke="#2a2a2a" stroke-width="1.4" fill="none" clip-path="url(#hb11)"/><path d="M394.6,216.1 L395.3,216.5 L396,216.9 L396.7,217.3 L397.4,217.7 L398.1,218 L398.8,218.4 L399.5,218.8 L400.2,219.2 L400.9,219.6 L401.6,219.9 L402.3,220.3 L403,220.7 L403.7,221.1 L404.4,221.5 L405.1,221.8 L405.8,222.2 L406.5,222.6 L407.2,223 L407.9,223.4 L408.6,223.8 L409.3,224.1 L410,224.5 L410.8,224.9 L411.5,225.3 L412.2,225.7 L412.8,226 L413.5,226.4 L414.2,226.8 L414.9,227.2 L415.6,227.6 L416.3,228 L416.9,228.4 L417.6,228.8 L418.3,229.2 L418.9,229.6 L419.6,230 L420.3,230.4 L420.9,230.8 L421.6,231.3 L422.3,231.7 L423,232.1 L423.6,232.5 L424.3,233 L424.4,233 L427.6,228 L427.5,227.9 L426.9,227.5 L426.2,227.1 L425.5,226.6 L424.8,226.2 L424.2,225.8 L423.5,225.3 L422.8,224.9 L422.1,224.5 L421.4,224 L420.7,223.6 L420,223.2 L419.3,222.8 L418.6,222.4 L417.9,222 L417.2,221.6 L416.4,221.2 L415.7,220.8 L415,220.4 L414.3,220 L413.6,219.6 L412.9,219.2 L412.2,218.9 L411.5,218.5 L410.8,218.1 L410.1,217.7 L409.4,217.3 L408.7,217 L408,216.6 L407.3,216.2 L406.6,215.8 L405.9,215.4 L405.2,215 L404.5,214.7 L403.8,214.3 L403.1,213.9 L402.4,213.5 L401.6,213.1 L400.9,212.8 L400.2,212.4 L399.5,212 L398.8,211.6 L398.1,211.2 L397.4,210.9Z" fill="none" stroke="#2a2a2a" stroke-width="1.2" stroke-linejoin="round"/>
<path d="M410,229 L414,225 L419,224.5 L423,228 L422,234 L420,240 L416,244 L411,242 L409.5,236Z" fill="url(#hatchd)" stroke="#2a2a2a" stroke-width="2.4" stroke-linejoin="round"/>
<path d="M419,235 L418.6,235.5 L418.1,236.1 L417.4,236.9 L416.7,237.7 L416,238.6 L415.2,239.6 L414.4,240.4 L413.7,241.3 L413,242 L412.2,242.8 L411.4,243.6 L410.6,244.3 L409.8,245 L409.1,245.7 L408.3,246.4 L407.5,247 L406.6,247.7 L406.6,247.7" fill="none" stroke="#2a2a2a" stroke-width="3" stroke-linecap="round" stroke-linejoin="round"/><path d="M402,251 L405.8,242.6 L411,249.9Z" fill="#2a2a2a" stroke="#2a2a2a" stroke-width="0.8" stroke-linejoin="round"/>
<path d="M442.8,125.2 C443.2,123.8 443.8,119.7 445.2,117 C446.6,114.3 448.5,111.1 451,108.8 C453.5,106.5 456.8,104.5 460.3,103 C463.8,101.5 468.5,100.5 472,99.5 C475.5,98.5 478.2,98.2 481.3,97.2 C484.4,96.2 487.6,94.9 490.7,93.7 C493.8,92.5 496.9,91.2 500,90.2 C503.1,89.2 506.2,88.2 509.3,87.8 C512.4,87.4 515.6,87.6 518.7,87.8 C521.8,88 525.3,88.4 528,89 C530.7,89.6 533,90.5 535,91.3 C537,92.1 538.9,93.3 539.7,93.7" fill="none" stroke="#2a2a2a" stroke-width="2.8" stroke-linecap="round" stroke-linejoin="round"/>
<path d="M553.7,103 C554.3,104.2 556.4,107.5 557.2,110 C558,112.5 558.3,115.9 558.3,118.2 C558.3,120.5 558,122.2 557.2,124 C556.4,125.8 554.3,127.9 553.7,128.7" fill="none" stroke="#2a2a2a" stroke-width="2.8" stroke-linecap="round" stroke-linejoin="round"/>
<path d="M549,142.7 C548.8,144.2 548.2,149.3 547.8,152 C547.4,154.7 547.3,156.5 546.7,159 C546.1,161.5 545.1,165.4 544.3,167.2 C543.5,168.9 542.4,169.1 542,169.5" fill="none" stroke="#2a2a2a" stroke-width="2.8" stroke-linecap="round" stroke-linejoin="round"/>
<path d="M458,170.7 C459.5,171.3 463.5,173.2 467,174.5 C470.5,175.8 475.1,177.9 479,178.5 C482.9,179.1 486.8,179.1 490.7,178.3 C494.6,177.5 498.4,174.9 502.3,173.5 C506.2,172.1 510.7,170.6 514,170 C517.3,169.4 520.7,170 522,170" fill="none" stroke="#2a2a2a" stroke-width="2.8" stroke-linecap="round" stroke-linejoin="round"/>
<text font-size="9.5" letter-spacing="0" font-weight="normal" font-style="normal" font-family="Liberation Sans" text-anchor="start" fill="#2a2a2a" stroke="#2a2a2a" stroke-width="0.4" transform="translate(528 83) scale(0.820 1)" textLength="43.90" lengthAdjust="spacing">Steblow</text>
<path d="M543,92 L548,91.5 L549,88 L555,88.5 L555,92 L561.5,93 L561,98 L555,97.5 L554,102 L548,101 L548,97 L543.5,97Z" fill="url(#hatchd)" stroke="#2a2a2a" stroke-width="2.4" stroke-linejoin="round"/>
<text font-size="9.5" letter-spacing="0" font-weight="normal" font-style="normal" font-family="Liberation Sans" text-anchor="start" fill="#2a2a2a" stroke="#2a2a2a" stroke-width="0.4" transform="translate(498.8 100.7) scale(0.820 1)" textLength="38.41" lengthAdjust="spacing">88. Div.</text>
<text font-size="9" letter-spacing="0" font-weight="normal" font-style="normal" font-family="Liberation Sans" text-anchor="start" fill="#2a2a2a" stroke="#2a2a2a" stroke-width="0.4" transform="translate(479 111.2) scale(0.820 1)" textLength="71.10" lengthAdjust="spacing">Schanderowka</text>
<path d="M490.7,125.2 L494,119.3 L500,119.3 L503.5,117 L507,118.2 L510.5,114.7 L516.3,113.5 L523.3,114.7 L525.7,121.7 L523.3,128.7 L522.2,135.7 L523.3,143.8 L517.5,147.3 L514,142.7 L510.5,135.7 L505.8,131 L502.3,129.8 L496.5,128.7 L491.8,127.5Z" fill="url(#hatch)" stroke="#2a2a2a" stroke-width="2.2" stroke-linejoin="round"/>
<path d="M473.8,135.4 L485.4,130.8" fill="none" stroke="#2a2a2a" stroke-width="2.4" stroke-linecap="round" stroke-linejoin="round"/>
<path d="M485.4,130.8 C486.2,131.4 487.9,133.1 490,134.5 C492.1,135.9 495.5,137.9 498.3,139.2 C501.1,140.4 505.3,141.5 506.7,142" fill="none" stroke="#2a2a2a" stroke-width="2.4" stroke-linecap="round" stroke-linejoin="round"/>
<path d="M474.2,140 L488.5,136" fill="none" stroke="#2a2a2a" stroke-width="2.4" stroke-linecap="round" stroke-linejoin="round"/>
<path d="M472.5,143.8 L485,142 L497,140.5" fill="none" stroke="#2a2a2a" stroke-width="2.4" stroke-linecap="round" stroke-linejoin="round"/>
<path d="M471.3,147.5 L506.7,142.3" fill="none" stroke="#2a2a2a" stroke-width="2.4" stroke-linecap="round" stroke-linejoin="round"/>
<text font-size="8.5" letter-spacing="0" font-weight="normal" font-style="normal" font-family="Liberation Sans" text-anchor="start" fill="#2a2a2a" stroke="#2a2a2a" stroke-width="0.4" transform="translate(446.3 140) scale(0.820 1)" textLength="32.80" lengthAdjust="spacing">Korps-</text>
<text font-size="8.5" letter-spacing="0" font-weight="normal" font-style="normal" font-family="Liberation Sans" text-anchor="start" fill="#2a2a2a" stroke="#2a2a2a" stroke-width="0.4" transform="translate(447.5 147.3) scale(0.820 1)" textLength="28.41" lengthAdjust="spacing">Abt. B</text>
<text font-size="9.5" letter-spacing="0" font-weight="normal" font-style="normal" font-family="Liberation Sans" text-anchor="start" fill="#2a2a2a" stroke="#2a2a2a" stroke-width="0.4" transform="translate(528 139.2) scale(0.820 1)" textLength="35.61" lengthAdjust="spacing">57. Div.</text>
<text font-size="9.5" letter-spacing="0" font-weight="normal" font-style="normal" font-family="Liberation Sans" text-anchor="start" fill="#2a2a2a" stroke="#2a2a2a" stroke-width="0.4" transform="translate(452 159) scale(0.820 1)" textLength="40.00" lengthAdjust="spacing">72. Div.</text>
<text font-size="9" letter-spacing="0" font-weight="normal" font-style="normal" font-family="Liberation Sans" text-anchor="start" fill="#2a2a2a" stroke="#2a2a2a" stroke-width="0.4" transform="translate(460.3 169) scale(0.820 1)" textLength="56.95" lengthAdjust="spacing">ϟϟ "Wiking"</text>
<path d="M521,178 L522,171.5 L527,168.5 L533,169 L535,172.5 L547,173 L548,179 L545,182 L535,182.5 L524,182.5Z" fill="url(#hatchd)" stroke="#2a2a2a" stroke-width="2.4" stroke-linejoin="round"/>
<text font-size="9" letter-spacing="0" font-weight="normal" font-style="normal" font-family="Liberation Sans" text-anchor="start" fill="#2a2a2a" stroke="#2a2a2a" stroke-width="0.4" transform="translate(507 191.7) scale(0.820 1)" textLength="61.22" lengthAdjust="spacing">Nowo Búda</text>
<path d="M426.5,133 L430,131.5 L433,134 L437,130.5 L440,133 L443,129.5 L444.5,134 L442,138.5 L436,141 L429,142 L427,138Z" fill="url(#hatchd)" stroke="#2a2a2a" stroke-width="2.4" stroke-linejoin="round"/>
<text font-size="8.5" letter-spacing="0" font-weight="normal" font-style="normal" font-family="Liberation Sans" text-anchor="start" fill="#2a2a2a" stroke="#2a2a2a" stroke-width="0.4" transform="translate(412.7 127) scale(0.820 1)" textLength="28.66" lengthAdjust="spacing">Chiliki</text>
<text font-size="8.5" letter-spacing="0" font-weight="normal" font-style="normal" font-family="Liberation Sans" text-anchor="start" fill="#2a2a2a" stroke="#2a2a2a" stroke-width="0.4" transform="translate(377.5 146.5) scale(0.820 1)" textLength="54.88" lengthAdjust="spacing">Petrowskoi</text>
<path d="M402,159 L406,157 L408,153 L412,150 L416,150.5 L419,149 L422.5,151 L423,157 L421.5,163 L419,167.5 L415.5,168.5 L414,164 L410,163.5 L403,164Z" fill="url(#hatchd)" stroke="#2a2a2a" stroke-width="2.4" stroke-linejoin="round"/>
<clipPath id="hb12"><path d="M518.7,58.2 L518.2,58.7 L517.6,59.3 L517,59.8 L516.4,60.4 L515.8,61 L515.2,61.7 L514.6,62.3 L514,63 L513.5,63.6 L513,64.3 L512.4,65 L511.9,65.6 L511.4,66.3 L510.9,67 L510.5,67.6 L510,68.3 L509.5,69.1 L509,69.8 L508.5,70.6 L508.1,71.5 L507.7,72.6 L507.4,73.5 L507.1,74.4 L506.9,75.2 L506.8,76 L506.7,76.5 L512.9,78.1 L513.1,77.5 L513.3,76.7 L513.5,76 L513.6,75.3 L513.8,74.8 L514,74.3 L514.2,73.8 L514.6,73.2 L514.9,72.6 L515.3,72 L515.8,71.4 L516.2,70.7 L516.7,70.1 L517.1,69.5 L517.6,68.9 L518.1,68.3 L518.5,67.7 L519,67.2 L519.5,66.6 L520,66.1 L520.5,65.6 L521,65 L521.5,64.5 L522.1,64 L522.7,63.4 L523.3,62.8Z"/></clipPath><path d="M520.1,56.9 L520,66 M516.5,60.1 L517.2,69.2 M513.3,63.7 L514.8,72.7 M510.4,67.5 L512.7,76.3 M507.6,72.3 L512.5,80 " stroke="#2a2a2a" stroke-width="1.4" fill="none" clip-path="url(#hb12)"/><path d="M518.7,58.2 L518.2,58.7 L517.6,59.3 L517,59.8 L516.4,60.4 L515.8,61 L515.2,61.7 L514.6,62.3 L514,63 L513.5,63.6 L513,64.3 L512.4,65 L511.9,65.6 L511.4,66.3 L510.9,67 L510.5,67.6 L510,68.3 L509.5,69.1 L509,69.8 L508.5,70.6 L508.1,71.5 L507.7,72.6 L507.4,73.5 L507.1,74.4 L506.9,75.2 L506.8,76 L506.7,76.5 L512.9,78.1 L513.1,77.5 L513.3,76.7 L513.5,76 L513.6,75.3 L513.8,74.8 L514,74.3 L514.2,73.8 L514.6,73.2 L514.9,72.6 L515.3,72 L515.8,71.4 L516.2,70.7 L516.7,70.1 L517.1,69.5 L517.6,68.9 L518.1,68.3 L518.5,67.7 L519,67.2 L519.5,66.6 L520,66.1 L520.5,65.6 L521,65 L521.5,64.5 L522.1,64 L522.7,63.4 L523.3,62.8Z" fill="none" stroke="#2a2a2a" stroke-width="1.3" stroke-linejoin="round"/>
<path d="M501.5,77 L507.7,84.8 L515.5,77.3Z" fill="#fff" stroke="#2a2a2a" stroke-width="1.3" stroke-linejoin="round"/>
<path d="M505.5,77.5 L508,81.5 L511.5,77.5" fill="none" stroke="#2a2a2a" stroke-width="1.1" stroke-linecap="round" stroke-linejoin="round"/>
<clipPath id="hb13"><path d="M581,114.7 L580.3,114.9 L579.5,115.2 L578.8,115.4 L578,115.7 L577.2,115.9 L576.4,116.2 L575.7,116.5 L574.9,116.8 L574.1,117.1 L573.3,117.5 L572.5,117.8 L571.8,118.2 L571,118.5 L570.2,118.9 L569.5,119.3 L568.8,119.7 L568,120.1 L567.3,120.5 L566.6,120.8 L565.9,121.3 L565.2,121.7 L564.4,122.1 L563.8,122.5 L563.1,122.9 L563,123 L561.6,120.6 L557.7,129.7 L567.5,130.5 L566.1,128.1 L566.2,128.1 L566.8,127.7 L567.5,127.3 L568.2,126.9 L568.9,126.5 L569.5,126.1 L570.2,125.7 L570.9,125.3 L571.6,125 L572.2,124.6 L572.9,124.3 L573.6,123.9 L574.3,123.6 L575,123.3 L575.7,123 L576.4,122.7 L577,122.4 L577.7,122.1 L578.5,121.9 L579.2,121.6 L579.9,121.4 L580.7,121.1 L581.4,120.9 L582.2,120.6 L583,120.3Z"/></clipPath><path d="M584.4,110.6 L577.2,125.2 M580.2,111.9 L573.4,126.7 M575.8,113.3 L570.2,128.5 M571.5,115 L567,130.6 M567.6,117 L563.6,132.8 M563.9,119.2 L560.1,135 " stroke="#2a2a2a" stroke-width="1.4" fill="none" clip-path="url(#hb13)"/><path d="M581,114.7 L580.3,114.9 L579.5,115.2 L578.8,115.4 L578,115.7 L577.2,115.9 L576.4,116.2 L575.7,116.5 L574.9,116.8 L574.1,117.1 L573.3,117.5 L572.5,117.8 L571.8,118.2 L571,118.5 L570.2,118.9 L569.5,119.3 L568.8,119.7 L568,120.1 L567.3,120.5 L566.6,120.8 L565.9,121.3 L565.2,121.7 L564.4,122.1 L563.8,122.5 L563.1,122.9 L563,123 L561.6,120.6 L557.7,129.7 L567.5,130.5 L566.1,128.1 L566.2,128.1 L566.8,127.7 L567.5,127.3 L568.2,126.9 L568.9,126.5 L569.5,126.1 L570.2,125.7 L570.9,125.3 L571.6,125 L572.2,124.6 L572.9,124.3 L573.6,123.9 L574.3,123.6 L575,123.3 L575.7,123 L576.4,122.7 L577,122.4 L577.7,122.1 L578.5,121.9 L579.2,121.6 L579.9,121.4 L580.7,121.1 L581.4,120.9 L582.2,120.6 L583,120.3Z" fill="none" stroke="#2a2a2a" stroke-width="1.3" stroke-linejoin="round"/>
<path d="M441,148 L440.3,148.7 L439.4,149.5 L438.3,150.6 L437.1,151.7 L435.9,153 L434.6,154.2 L433.4,155.5 L432.3,156.6 L431.3,157.8 L430.3,159 L429.3,160.1 L428.3,161.3 L427.4,162.5 L426.5,163.8 L425.6,165.1 L424.7,166.4 L424,167.7 L423.2,169 L422.5,170.4 L421.8,171.8 L421.1,173.2 L420.4,174.7 L419.8,176.1 L419.2,177.5 L418.6,179 L418,180.4 L417.5,181.9 L417,183.3 L416.5,184.8 L416.1,186.2 L415.8,187.7 L415.6,189.1 L415.5,190.5 L415.6,192 L415.8,193.5 L416.2,195 L416.6,196.5 L417.1,198 L417.6,199.5 L418,201 L418.4,202.5 L418.8,204.1 L419.2,205.7 L419.7,207.3 L420.1,208.9 L420.4,210.4 L420.8,211.8 L421,213 L421.2,215.1 L421.2,216.8 L421.1,218.1 L421,219" fill="none" stroke="#2a2a2a" stroke-width="3.6" stroke-linejoin="round" stroke-dasharray="6 4" stroke-linecap="butt"/>
<path d="M447,158 L446.2,158.6 L445.2,159.3 L444,160.2 L442.7,161.2 L441.3,162.2 L439.9,163.4 L438.6,164.5 L437.4,165.6 L436.3,166.8 L435.3,167.9 L434.2,169.1 L433.3,170.4 L432.3,171.7 L431.4,173 L430.6,174.3 L429.9,175.6 L429.3,177 L428.7,178.5 L428.2,180 L427.7,181.5 L427.4,183.1 L427.2,184.6 L427,186.1 L427,187.5 L427.1,189 L427.4,190.6 L427.9,192.1 L428.5,193.6 L429.1,195 L429.8,196.3 L430.3,197.6 L431,199.2 L431.7,200.8 L432.5,202.4 L433.1,203.6 L433.5,204.5" fill="none" stroke="#2a2a2a" stroke-width="3.6" stroke-linejoin="round" stroke-dasharray="6 4" stroke-linecap="butt"/>
<path d="M432.5,204 L435,206 L437,204.5 L439,206 L441.5,204 L440,212 L436.5,213 L433.5,211.5Z" fill="#2a2a2a" stroke="none" stroke-width="0" stroke-linejoin="round"/>
<path d="M455,166 L454.6,166.4 L454,166.9 L453.3,167.4 L452.5,168.1 L451.7,168.8 L450.8,169.5 L449.9,170.3 L449,171.1 L448.2,171.9 L447.4,172.7 L446.6,173.5 L446,174.3 L445.4,175.2 L444.8,176 L444.3,177 L443.7,177.9 L443.3,178.8 L442.8,179.8 L442.4,180.8 L442,181.7 L441.6,182.7 L441.3,183.7 L441,184.6 L440.7,185.6 L440.5,186.6 L440.3,187.5 L440.2,188.5 L440,189.5 L439.9,190.5 L439.8,191.5 L439.7,192.5 L439.7,193.5 L439.6,194.5 L439.4,195.5 L439.3,196.5 L439.2,197.4 L439.2,198.4 L439.1,199.4 L439,200.4 L438.9,201.4 L438.8,202.4 L438.8,203.4 L438.7,204.4 L438.6,205.5 L438.4,206.5 L438.3,207.5 L438.2,208.4 L438.1,209.4 L438,210.4 L437.8,211.4 L437.7,212.4 L437.6,213.5 L437.5,214.5 L437.3,215.5 L437.2,216.5 L437.1,217.5 L436.9,218.5 L436.8,219.5 L436.7,220.5 L436.6,221.6 L436.5,222.6 L436.4,223.6 L436.3,224.7 L436.2,225.7 L436.1,226.7 L435.9,227.7 L435.8,228.6 L435.6,229.5 L435.4,230.5 L435.1,231.6 L434.8,232.7 L434.5,233.7 L434.1,234.7 L433.7,235.7 L433.4,236.6 L433,237.5 L432.6,238.3 L432.2,239.1 L431.7,240 L431.1,240.9 L430.6,241.7 L430,242.4 L429.3,243 L428.6,243.7 L427.8,244.5 L427.2,245.2 L426.5,245.9 L425.7,246.6 L425,247.4 L424.2,248.2 L423.4,249 L422.6,249.7 L421.8,250.4 L421,251 L420.1,251.6 L419.3,252.2 L418.5,252.7 L417.6,253.2 L416.8,253.6 L415.9,254.1 L415,254.5 L414,255 L413.1,255.4 L412.3,255.8 L411.3,256.3 L410.4,256.7 L409.4,257.1 L408.5,257.5 L407.5,258 L406.5,258.4 L405.5,258.8 L404.5,259.2 L403.6,259.6 L402.7,259.9 L401.7,260.3 L400.7,260.7 L399.7,261 L398.7,261.4 L397.8,261.8 L396.8,262.1 L395.9,262.4 L395,262.7 L393.9,263 L392.9,263.3 L391.9,263.6 L390.9,263.9 L389.9,264.2 L389,264.4 L388,264.6 L387,264.9 L386,265.1 L385,265.4 L384,265.6 L383.1,265.9 L382.1,266.1 L381.1,266.3 L380.1,266.5 L379.1,266.7 L378,266.8 L377.1,266.9 L376.2,267 L375.3,267.1 L374.3,267.2 L373.4,267.3 L372.4,267.3 L371.4,267.3 L370.3,267.3 L369.2,267.2 L368,267 L367.1,266.8 L366.2,266.6 L365.2,266.4 L364.1,266.1 L363,265.7 L361.9,265.4 L360.7,265 L360.2,264.9" fill="none" stroke="#2a2a2a" stroke-width="3.6" stroke-linejoin="round" stroke-dasharray="6 4" stroke-linecap="butt"/><path d="M353,262.5 L362.1,260.2 L359.1,269.8Z" fill="#2a2a2a" stroke="#2a2a2a" stroke-width="0.8" stroke-linejoin="round"/>
<text font-size="8" letter-spacing="0" font-weight="normal" font-style="normal" font-family="Liberation Sans" text-anchor="start" fill="#2a2a2a" stroke="#2a2a2a" stroke-width="0.4" transform="translate(403.3 261) scale(0.820 1)" textLength="17.07" lengthAdjust="spacing">222</text>
<path d="M406,262 L409,267 L403,267Z" fill="#2a2a2a" stroke="none" stroke-width="0" stroke-linejoin="round"/>
<path d="M390,210.5 L393,214.5 L387,214.5Z" fill="#2a2a2a" stroke="none" stroke-width="0" stroke-linejoin="round"/>
<clipPath id="hb14"><path d="M452.2,194.4 L452.3,193.5 L452.4,192.7 L452.5,192 L452.6,191.2 L452.7,190.5 L452.9,189.8 L453,189.2 L453.2,188.6 L453.4,187.9 L453.7,187.3 L453.9,186.8 L454.3,186.2 L454.6,185.8 L454.9,185.5 L455.2,185.2 L455.7,184.9 L456.2,184.6 L456.7,184.4 L457.3,184.1 L458,183.9 L458.7,183.7 L459.3,183.5 L460,183.3 L460.7,183.2 L461.4,183.1 L462.1,183 L462.9,182.9 L463.6,182.8 L464.4,182.8 L465.1,182.7 L465.8,182.7 L466.4,182.8 L467.2,182.8 L467.9,182.9 L468.7,183 L469.4,183 L470.2,183.1 L471.1,183.2 L471.3,183.2 L471.7,177.8 L471.6,177.7 L470.9,177.7 L470.1,177.6 L469.3,177.5 L468.4,177.4 L467.6,177.3 L466.7,177.3 L465.8,177.2 L464.9,177.3 L464,177.3 L463.2,177.4 L462.3,177.4 L461.5,177.5 L460.6,177.7 L459.7,177.8 L458.8,178 L458,178.2 L457.1,178.4 L456.3,178.7 L455.4,179 L454.5,179.3 L453.6,179.8 L452.7,180.3 L451.8,180.9 L451,181.6 L450.2,182.5 L449.6,183.4 L449.1,184.2 L448.7,185.1 L448.3,186 L448,186.8 L447.7,187.8 L447.5,188.7 L447.3,189.6 L447.2,190.4 L447.1,191.3 L447,192.1 L446.9,192.9 L446.8,193.6Z"/></clipPath><path d="M452.1,195.2 L447.1,190.8 M452.4,192 L447.8,187.2 M452.9,189.2 L449.3,183.5 M453.5,186.9 L452.4,180.2 M455.2,185.1 L456.5,178.5 M457.8,183.8 L460.3,177.6 M460.8,183.1 L464,177.2 M463.9,182.7 L467.7,177.3 M467,182.8 L471.4,177.7 M469.3,183.1 L473.7,177.9 " stroke="#2a2a2a" stroke-width="1.4" fill="none" clip-path="url(#hb14)"/><path d="M452.2,194.4 L452.3,193.5 L452.4,192.7 L452.5,192 L452.6,191.2 L452.7,190.5 L452.9,189.8 L453,189.2 L453.2,188.6 L453.4,187.9 L453.7,187.3 L453.9,186.8 L454.3,186.2 L454.6,185.8 L454.9,185.5 L455.2,185.2 L455.7,184.9 L456.2,184.6 L456.7,184.4 L457.3,184.1 L458,183.9 L458.7,183.7 L459.3,183.5 L460,183.3 L460.7,183.2 L461.4,183.1 L462.1,183 L462.9,182.9 L463.6,182.8 L464.4,182.8 L465.1,182.7 L465.8,182.7 L466.4,182.8 L467.2,182.8 L467.9,182.9 L468.7,183 L469.4,183 L470.2,183.1 L471.1,183.2 L471.3,183.2 L471.7,177.8 L471.6,177.7 L470.9,177.7 L470.1,177.6 L469.3,177.5 L468.4,177.4 L467.6,177.3 L466.7,177.3 L465.8,177.2 L464.9,177.3 L464,177.3 L463.2,177.4 L462.3,177.4 L461.5,177.5 L460.6,177.7 L459.7,177.8 L458.8,178 L458,178.2 L457.1,178.4 L456.3,178.7 L455.4,179 L454.5,179.3 L453.6,179.8 L452.7,180.3 L451.8,180.9 L451,181.6 L450.2,182.5 L449.6,183.4 L449.1,184.2 L448.7,185.1 L448.3,186 L448,186.8 L447.7,187.8 L447.5,188.7 L447.3,189.6 L447.2,190.4 L447.1,191.3 L447,192.1 L446.9,192.9 L446.8,193.6Z" fill="none" stroke="#2a2a2a" stroke-width="1.2" stroke-linejoin="round"/>
<path d="M455,190 L459,186.5 L465,186.5 L470,185.5 L471.5,190 L469,195 L463,197.5 L457,197 L455,194Z" fill="url(#hatchd)" stroke="#2a2a2a" stroke-width="2.4" stroke-linejoin="round"/>
<text font-size="9" letter-spacing="0" font-weight="normal" font-style="normal" font-family="Liberation Sans" text-anchor="start" fill="#2a2a2a" stroke="#2a2a2a" stroke-width="0.4" transform="translate(448 206) scale(0.820 1)" textLength="59.76" lengthAdjust="spacing">Komerowka</text>
<clipPath id="hb15"><path d="M466.4,232.4 L466.8,231.5 L467.2,230.8 L467.5,230.2 L467.8,229.7 L468.2,229.2 L468.4,228.9 L468.6,228.7 L469.1,228.4 L469.7,228.1 L470.3,227.8 L470.9,227.6 L471.6,227.4 L472.3,227.1 L472.9,227 L473.6,226.8 L474.2,226.7 L474.8,226.7 L475.4,226.7 L476.1,226.7 L476.7,226.7 L477.4,226.8 L478.1,227 L478.7,227.1 L479.3,227.3 L479.8,227.5 L480.1,227.6 L480.4,227.9 L480.8,228.3 L481.3,228.8 L481.7,229.3 L482.2,229.9 L482.8,230.7 L483,230.9 L487,227.1 L486.9,227 L486.5,226.5 L486,225.9 L485.4,225.2 L484.8,224.5 L484.1,223.8 L483.1,223 L482,222.4 L481,222.1 L480.1,221.8 L479.2,221.6 L478.2,221.4 L477.4,221.3 L476.4,221.2 L475.5,221.2 L474.5,221.2 L473.5,221.3 L472.5,221.4 L471.6,221.6 L470.7,221.9 L469.9,222.1 L469,222.4 L468.2,222.8 L467.3,223.2 L466.4,223.6 L465.6,224.1 L464.6,225 L463.7,225.9 L463.2,226.7 L462.7,227.6 L462.2,228.4 L461.9,229.1 L461.6,229.6Z"/></clipPath><path d="M466.1,233 L462.8,227.2 M467.1,230.5 L465.4,223.9 M468.4,228.7 L469.8,222.1 M471.1,227.4 L473.5,221.2 M473.7,226.7 L477.6,221.2 M476.5,226.6 L481.5,222.1 M478.9,226.7 L485.3,224.7 M481,228.4 L487.7,228.1 " stroke="#2a2a2a" stroke-width="1.4" fill="none" clip-path="url(#hb15)"/><path d="M466.4,232.4 L466.8,231.5 L467.2,230.8 L467.5,230.2 L467.8,229.7 L468.2,229.2 L468.4,228.9 L468.6,228.7 L469.1,228.4 L469.7,228.1 L470.3,227.8 L470.9,227.6 L471.6,227.4 L472.3,227.1 L472.9,227 L473.6,226.8 L474.2,226.7 L474.8,226.7 L475.4,226.7 L476.1,226.7 L476.7,226.7 L477.4,226.8 L478.1,227 L478.7,227.1 L479.3,227.3 L479.8,227.5 L480.1,227.6 L480.4,227.9 L480.8,228.3 L481.3,228.8 L481.7,229.3 L482.2,229.9 L482.8,230.7 L483,230.9 L487,227.1 L486.9,227 L486.5,226.5 L486,225.9 L485.4,225.2 L484.8,224.5 L484.1,223.8 L483.1,223 L482,222.4 L481,222.1 L480.1,221.8 L479.2,221.6 L478.2,221.4 L477.4,221.3 L476.4,221.2 L475.5,221.2 L474.5,221.2 L473.5,221.3 L472.5,221.4 L471.6,221.6 L470.7,221.9 L469.9,222.1 L469,222.4 L468.2,222.8 L467.3,223.2 L466.4,223.6 L465.6,224.1 L464.6,225 L463.7,225.9 L463.2,226.7 L462.7,227.6 L462.2,228.4 L461.9,229.1 L461.6,229.6Z" fill="none" stroke="#2a2a2a" stroke-width="1.2" stroke-linejoin="round"/>
<path d="M465.5,237 L472,234 L479,234.5 L482,238 L479,242 L477,247.5 L471,248 L467,244Z" fill="url(#hatchd)" stroke="#2a2a2a" stroke-width="2.4" stroke-linejoin="round"/>
<text font-size="9.5" letter-spacing="0" font-weight="normal" font-style="normal" font-family="Liberation Sans" text-anchor="start" fill="#2a2a2a" stroke="#2a2a2a" stroke-width="0.4" transform="translate(488 245.5) scale(0.820 1)" textLength="48.78" lengthAdjust="spacing">Morenzy</text>
<text font-size="8.5" letter-spacing="0" font-weight="normal" font-style="normal" font-family="Liberation Sans" text-anchor="start" fill="#2a2a2a" stroke="#2a2a2a" stroke-width="0.4" transform="translate(413.3 297.5) scale(0.820 1)" textLength="67.07" lengthAdjust="spacing">Schesterinzy</text>
<path d="M399,310 L403,305 L408,304.5 L412,302 L414.5,299 L418.5,300 L417.5,304 L416,307 L421,309 L426,310 L424.5,313.5 L420,314 L417,316.5 L410,318.5 L404,317.5 L400,314Z" fill="url(#hatchd)" stroke="#2a2a2a" stroke-width="2.4" stroke-linejoin="round"/>
<path d="M415.2,318.3 C415.8,318.8 417.5,320.3 418.5,321 C419.5,321.7 420.2,322.7 421.3,322.4 C422.4,322.1 424,319.7 425.3,319.3 C426.6,318.9 428.4,319 429.3,319.8 C430.2,320.6 431.2,322.6 430.9,323.9 C430.6,325.2 428.7,326 427.3,327.4 C425.9,328.8 423.7,331 422.3,332.5 C420.9,334 419.7,335.8 419.2,336.5" fill="none" stroke="#2a2a2a" stroke-width="1.1" stroke-linecap="round" stroke-linejoin="round"/>
<path d="M435.4,320.4 L435,320.9 L434.6,321.7 L434,322.5 L433.4,323.5 L432.7,324.5 L432,325.5 L431.3,326.5 L430.7,327.4 L430.1,328.3 L429.5,329.3 L428.8,330.3 L428.1,331.3 L427.5,332.3 L427.2,332.7" fill="none" stroke="#2a2a2a" stroke-width="0.9" stroke-linecap="round" stroke-linejoin="round"/><path d="M425.8,334.8 L426.3,330.9 L429.2,332.9Z" fill="#2a2a2a" stroke="#2a2a2a" stroke-width="0.8" stroke-linejoin="round"/>
<clipPath id="hb16"><path d="M398.2,272.4 L398.6,272.9 L399.1,273.6 L399.6,274.2 L400.1,274.9 L400.6,275.6 L401.1,276.2 L401.7,276.9 L402.3,277.6 L403,278.2 L403.7,278.8 L404.3,279.4 L405,280 L405.6,280.5 L406.3,281 L407.1,281.5 L407.8,282 L408.5,282.5 L409.3,283 L410.2,283.5 L411,283.9 L411.8,284.2 L412.7,284.5 L413.5,284.8 L414.3,285.1 L415,285.3 L415.8,285.6 L416.5,285.8 L416.5,285.8 L418.5,280.2 L418.5,280.2 L417.7,279.9 L416.9,279.6 L416.2,279.4 L415.4,279.1 L414.8,278.9 L414.1,278.6 L413.4,278.3 L412.8,278.1 L412.3,277.8 L411.7,277.4 L411.1,277 L410.5,276.6 L409.9,276.2 L409.3,275.8 L408.8,275.3 L408.2,274.8 L407.6,274.4 L407.1,273.9 L406.7,273.4 L406.2,272.9 L405.7,272.4 L405.3,271.8 L404.8,271.2 L404.3,270.6 L403.9,270 L403.4,269.3 L402.8,268.6Z"/></clipPath><path d="M397.5,271.4 L404.8,271.2 M399.5,274.3 L406.8,273.7 M401.9,277.3 L409.1,275.7 M404.7,279.8 L411.6,277.5 M407.7,282.1 L414.3,278.9 M411.1,284 L417.1,279.7 M414.3,285 L420.3,280.8 " stroke="#2a2a2a" stroke-width="1.4" fill="none" clip-path="url(#hb16)"/><path d="M398.2,272.4 L398.6,272.9 L399.1,273.6 L399.6,274.2 L400.1,274.9 L400.6,275.6 L401.1,276.2 L401.7,276.9 L402.3,277.6 L403,278.2 L403.7,278.8 L404.3,279.4 L405,280 L405.6,280.5 L406.3,281 L407.1,281.5 L407.8,282 L408.5,282.5 L409.3,283 L410.2,283.5 L411,283.9 L411.8,284.2 L412.7,284.5 L413.5,284.8 L414.3,285.1 L415,285.3 L415.8,285.6 L416.5,285.8 L416.5,285.8 L418.5,280.2 L418.5,280.2 L417.7,279.9 L416.9,279.6 L416.2,279.4 L415.4,279.1 L414.8,278.9 L414.1,278.6 L413.4,278.3 L412.8,278.1 L412.3,277.8 L411.7,277.4 L411.1,277 L410.5,276.6 L409.9,276.2 L409.3,275.8 L408.8,275.3 L408.2,274.8 L407.6,274.4 L407.1,273.9 L406.7,273.4 L406.2,272.9 L405.7,272.4 L405.3,271.8 L404.8,271.2 L404.3,270.6 L403.9,270 L403.4,269.3 L402.8,268.6Z" fill="none" stroke="#2a2a2a" stroke-width="1.2" stroke-linejoin="round"/>
<clipPath id="hb17"><path d="M306.7,329.1 L306.3,328.4 L305.9,327.7 L305.5,327 L305.1,326.3 L304.7,325.7 L304.3,325 L303.9,324.3 L303.5,323.6 L303.1,322.9 L302.7,322.2 L302.3,321.5 L301.9,320.8 L301.4,320.1 L301,319.4 L300.6,318.7 L300.2,318 L299.8,317.3 L299.4,316.7 L298.9,316 L298.5,315.3 L298.1,314.6 L297.7,313.9 L297.3,313.2 L296.8,312.5 L296.4,311.8 L295.9,311.1 L295.5,310.4 L295,309.7 L294.6,309.1 L294.1,308.4 L293.6,307.7 L293,307 L292.5,306.3 L292,305.6 L291.5,305 L290.9,304.3 L290.4,303.7 L289.9,303.1 L289.5,302.6 L291.6,300.9 L281.3,297.8 L281.7,309.2 L283.8,307.4 L284.2,307.9 L284.7,308.5 L285.2,309.1 L285.7,309.7 L286.2,310.3 L286.6,310.9 L287.1,311.5 L287.5,312.1 L287.9,312.7 L288.4,313.3 L288.8,313.9 L289.2,314.6 L289.6,315.2 L290.1,315.9 L290.5,316.5 L290.9,317.2 L291.3,317.8 L291.7,318.5 L292.1,319.2 L292.5,319.9 L293,320.6 L293.4,321.2 L293.8,321.9 L294.2,322.6 L294.6,323.3 L295,324 L295.4,324.6 L295.8,325.3 L296.2,326 L296.6,326.7 L297,327.4 L297.4,328.1 L297.8,328.8 L298.2,329.4 L298.6,330.1 L299,330.8 L299.5,331.5 L299.9,332.2 L300.3,332.9Z"/></clipPath><path d="M311.7,332.2 L293.9,327.4 M309.4,328.2 L291.5,323.5 M307.1,324.2 L289.2,319.6 M304.7,320.2 L286.8,315.7 M302.4,316.1 L284.3,311.9 M299.9,311.8 L281.7,308.6 M297.2,307.5 L278.7,305.7 M294.2,304.3 L275.9,301.8 " stroke="#2a2a2a" stroke-width="1.4" fill="none" clip-path="url(#hb17)"/><path d="M306.7,329.1 L306.3,328.4 L305.9,327.7 L305.5,327 L305.1,326.3 L304.7,325.7 L304.3,325 L303.9,324.3 L303.5,323.6 L303.1,322.9 L302.7,322.2 L302.3,321.5 L301.9,320.8 L301.4,320.1 L301,319.4 L300.6,318.7 L300.2,318 L299.8,317.3 L299.4,316.7 L298.9,316 L298.5,315.3 L298.1,314.6 L297.7,313.9 L297.3,313.2 L296.8,312.5 L296.4,311.8 L295.9,311.1 L295.5,310.4 L295,309.7 L294.6,309.1 L294.1,308.4 L293.6,307.7 L293,307 L292.5,306.3 L292,305.6 L291.5,305 L290.9,304.3 L290.4,303.7 L289.9,303.1 L289.5,302.6 L291.6,300.9 L281.3,297.8 L281.7,309.2 L283.8,307.4 L284.2,307.9 L284.7,308.5 L285.2,309.1 L285.7,309.7 L286.2,310.3 L286.6,310.9 L287.1,311.5 L287.5,312.1 L287.9,312.7 L288.4,313.3 L288.8,313.9 L289.2,314.6 L289.6,315.2 L290.1,315.9 L290.5,316.5 L290.9,317.2 L291.3,317.8 L291.7,318.5 L292.1,319.2 L292.5,319.9 L293,320.6 L293.4,321.2 L293.8,321.9 L294.2,322.6 L294.6,323.3 L295,324 L295.4,324.6 L295.8,325.3 L296.2,326 L296.6,326.7 L297,327.4 L297.4,328.1 L297.8,328.8 L298.2,329.4 L298.6,330.1 L299,330.8 L299.5,331.5 L299.9,332.2 L300.3,332.9Z" fill="none" stroke="#2a2a2a" stroke-width="1.3" stroke-linejoin="round"/>
<clipPath id="hb18"><path d="M356.3,321.6 L355.9,321 L355.5,320.3 L355.1,319.6 L354.7,318.9 L354.3,318.2 L353.9,317.5 L353.5,316.8 L353.1,316.1 L352.7,315.4 L352.3,314.7 L351.9,314 L351.5,313.2 L351.1,312.5 L350.7,311.8 L350.2,311.1 L349.8,310.4 L349.4,309.7 L348.9,309 L348.4,308.3 L348,307.6 L347.5,306.9 L347.1,306.3 L346.6,305.6 L346.2,305 L345.7,304.3 L345.3,303.7 L344.8,303 L344.4,302.4 L344,301.7 L343.6,301.1 L343.1,300.4 L342.7,299.7 L342.3,299.1 L341.9,298.4 L341.4,297.7 L341,297.1 L340.6,296.4 L340.2,295.7 L340,295.4 L342.4,294 L332.4,289.5 L331.3,300.7 L333.6,299.3 L333.8,299.6 L334.2,300.3 L334.7,301 L335.1,301.7 L335.5,302.4 L335.9,303.1 L336.4,303.8 L336.8,304.4 L337.3,305.1 L337.7,305.8 L338.1,306.5 L338.6,307.2 L339.1,307.9 L339.5,308.5 L340,309.2 L340.4,309.9 L340.9,310.5 L341.3,311.2 L341.8,311.8 L342.2,312.5 L342.6,313.1 L343,313.8 L343.5,314.4 L343.9,315 L344.2,315.7 L344.6,316.4 L345,317 L345.4,317.7 L345.8,318.4 L346.2,319.1 L346.6,319.8 L347,320.5 L347.4,321.1 L347.8,321.8 L348.2,322.5 L348.6,323.2 L348.9,323.9 L349.3,324.6 L349.7,325.4Z"/></clipPath><path d="M361.2,324.9 L343.4,319.7 M359,320.8 L341.2,315.7 M356.7,316.6 L338.8,312 M354.4,312.3 L336.3,308.5 M351.8,308.4 L333.7,304.8 M349.2,304.8 L331.2,300.7 M346.7,301.1 L328.8,296.7 M344.3,297.4 L326.5,292.4 " stroke="#2a2a2a" stroke-width="1.4" fill="none" clip-path="url(#hb18)"/><path d="M356.3,321.6 L355.9,321 L355.5,320.3 L355.1,319.6 L354.7,318.9 L354.3,318.2 L353.9,317.5 L353.5,316.8 L353.1,316.1 L352.7,315.4 L352.3,314.7 L351.9,314 L351.5,313.2 L351.1,312.5 L350.7,311.8 L350.2,311.1 L349.8,310.4 L349.4,309.7 L348.9,309 L348.4,308.3 L348,307.6 L347.5,306.9 L347.1,306.3 L346.6,305.6 L346.2,305 L345.7,304.3 L345.3,303.7 L344.8,303 L344.4,302.4 L344,301.7 L343.6,301.1 L343.1,300.4 L342.7,299.7 L342.3,299.1 L341.9,298.4 L341.4,297.7 L341,297.1 L340.6,296.4 L340.2,295.7 L340,295.4 L342.4,294 L332.4,289.5 L331.3,300.7 L333.6,299.3 L333.8,299.6 L334.2,300.3 L334.7,301 L335.1,301.7 L335.5,302.4 L335.9,303.1 L336.4,303.8 L336.8,304.4 L337.3,305.1 L337.7,305.8 L338.1,306.5 L338.6,307.2 L339.1,307.9 L339.5,308.5 L340,309.2 L340.4,309.9 L340.9,310.5 L341.3,311.2 L341.8,311.8 L342.2,312.5 L342.6,313.1 L343,313.8 L343.5,314.4 L343.9,315 L344.2,315.7 L344.6,316.4 L345,317 L345.4,317.7 L345.8,318.4 L346.2,319.1 L346.6,319.8 L347,320.5 L347.4,321.1 L347.8,321.8 L348.2,322.5 L348.6,323.2 L348.9,323.9 L349.3,324.6 L349.7,325.4Z" fill="none" stroke="#2a2a2a" stroke-width="1.3" stroke-linejoin="round"/>
<path d="M485.2,371.4 L486.5,356 L487.7,341.3" fill="none" stroke="#2a2a2a" stroke-width="1.4" stroke-linecap="round" stroke-linejoin="round"/>
<path d="M484,347.6 L487.7,341.3 L490.6,348.2" fill="none" stroke="#2a2a2a" stroke-width="1.4" stroke-linecap="round" stroke-linejoin="round"/>
<path d="M478.3,363.5 L478.4,350.8 L494.5,364.6 L495.6,351" fill="none" stroke="#2a2a2a" stroke-width="1.9" stroke-linecap="round" stroke-linejoin="round"/>
<path d="M427,385.5 L427,389.5 L485,390.2 L542.5,391 L542.5,386.5" fill="none" stroke="#2a2a2a" stroke-width="1.8" stroke-linecap="round" stroke-linejoin="round"/>
<path d="M485,387 L485,390" fill="none" stroke="#2a2a2a" stroke-width="1" stroke-linecap="round" stroke-linejoin="round"/>
<text font-size="6.5" letter-spacing="0" font-weight="normal" font-style="normal" font-family="Liberation Sans" text-anchor="start" fill="#2a2a2a" stroke="#2a2a2a" stroke-width="0.4" transform="translate(425 383.5)">0</text>
<text font-size="6.5" letter-spacing="0" font-weight="normal" font-style="normal" font-family="Liberation Sans" text-anchor="start" fill="#2a2a2a" stroke="#2a2a2a" stroke-width="0.4" transform="translate(483 383.5)">5</text>
<text font-size="6.5" letter-spacing="0" font-weight="normal" font-style="normal" font-family="Liberation Sans" text-anchor="start" fill="#2a2a2a" stroke="#2a2a2a" stroke-width="0.4" transform="translate(537 383.5)">10</text>
<text font-size="10.6" letter-spacing="0" font-weight="normal" font-style="normal" font-family="Liberation Sans" text-anchor="start" fill="#2a2a2a" stroke="#2a2a2a" stroke-width="0.4" transform="translate(550 394) scale(0.820 1)" textLength="20.73" lengthAdjust="spacing">Km</text>
<text font-size="10.6" letter-spacing="0" font-weight="normal" font-style="italic" font-family="Liberation Sans" text-anchor="start" fill="#2a2a2a" stroke="#2a2a2a" stroke-width="0.3" transform="translate(333.5 402.5) scale(0.820 1)" textLength="69.51" lengthAdjust="spacing">A. Büchner</text>
</svg></body></html>
